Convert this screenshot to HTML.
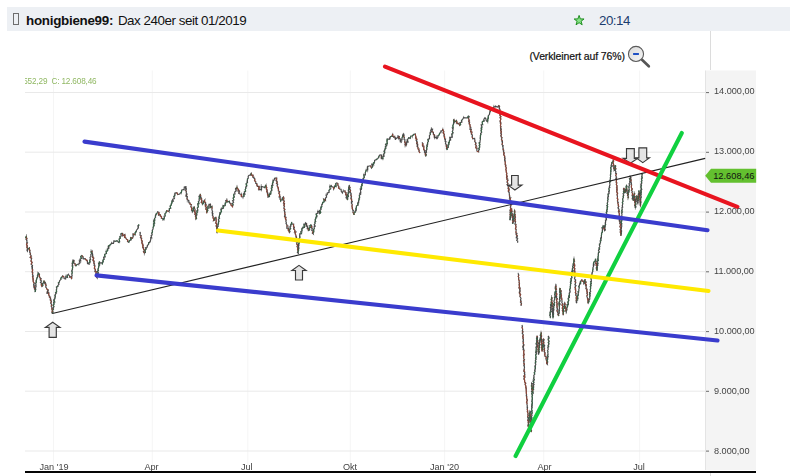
<!DOCTYPE html>
<html><head><meta charset="utf-8"><title>chart</title>
<style>
html,body{margin:0;padding:0;background:#fff;}
body{width:790px;height:476px;position:relative;overflow:hidden;font-family:"Liberation Sans",sans-serif;}
#hdr{position:absolute;left:7px;top:7px;width:783px;height:24px;background:#edf0f4;}
#box{position:absolute;left:13px;top:13px;width:4px;height:10px;border:1px solid #6e6e6e;}
#title{position:absolute;left:26px;top:11.6px;font-size:13.4px;line-height:18px;color:#111;white-space:nowrap;}
#title b{font-weight:bold;letter-spacing:-0.28px;}
#title span{letter-spacing:-0.46px;margin-left:1.0px;}
#time{position:absolute;left:599px;top:11.9px;font-size:13.3px;line-height:18px;color:#1b3c6e;letter-spacing:-0.48px;}
#vk{position:absolute;left:529.5px;top:49px;font-size:10.5px;line-height:14px;color:#111;-webkit-text-stroke:0.2px #111;white-space:nowrap;letter-spacing:-0.13px;}
#vline{position:absolute;left:710px;top:31px;width:1px;height:445px;background:#dcdcdc;}
svg{position:absolute;left:0;top:0;}
</style></head><body>
<div id="vline"></div>
<div id="hdr"></div>
<div id="box"></div>
<div id="title"><b>honigbiene99:</b> <span>Dax 240er seit 01/2019</span></div>
<div id="time">20:14</div>
<div id="vk">(Verkleinert auf 76%)</div>
<svg width="790" height="476" viewBox="0 0 790 476">
<!-- chart image background -->
<rect x="24.5" y="70" width="731.5" height="403" fill="#fff"/>
<rect x="705.5" y="70.5" width="50.5" height="399.5" fill="#f4f4f4"/>
<line x1="705.5" y1="70.5" x2="705.5" y2="470" stroke="#e4e4e4" stroke-width="1"/>
<g stroke-width="1" fill="none">
<line x1="53.5" y1="70.5" x2="53.5" y2="470" stroke="#f5f5f5"/>
<line x1="152.3" y1="70.5" x2="152.3" y2="470" stroke="#f5f5f5"/>
<line x1="247.8" y1="70.5" x2="247.8" y2="470" stroke="#f5f5f5"/>
<line x1="350.3" y1="70.5" x2="350.3" y2="470" stroke="#f5f5f5"/>
<line x1="444.6" y1="70.5" x2="444.6" y2="470" stroke="#f5f5f5"/>
<line x1="543.7" y1="70.5" x2="543.7" y2="470" stroke="#f5f5f5"/>
<line x1="639.6" y1="70.5" x2="639.6" y2="470" stroke="#f5f5f5"/>
<line x1="25" y1="92.5" x2="705.5" y2="92.5" stroke="#e9e9e9"/>
<line x1="25" y1="152.2" x2="705.5" y2="152.2" stroke="#e9e9e9"/>
<line x1="25" y1="212" x2="705.5" y2="212" stroke="#e9e9e9"/>
<line x1="25" y1="271.7" x2="705.5" y2="271.7" stroke="#e9e9e9"/>
<line x1="25" y1="331.5" x2="705.5" y2="331.5" stroke="#e9e9e9"/>
<line x1="25" y1="391.2" x2="705.5" y2="391.2" stroke="#e9e9e9"/>
<line x1="25" y1="451" x2="705.5" y2="451" stroke="#e9e9e9"/>
</g>
<clipPath id="cl"><rect x="25" y="70" width="680" height="401"/></clipPath>
<text x="23.2" y="84" font-size="8.2" fill="#84b052" opacity="0.9" xml:space="preserve" style="white-space:pre" textLength="73.4" lengthAdjust="spacing" clip-path="url(#cl)" font-family="Liberation Sans, sans-serif">552,29  C: 12.608,46</text>
<!-- price series -->
<g fill="none" stroke-linecap="butt" stroke-linejoin="miter">
<path d="M48.1 289.9L47.2 293.2 M74.0 260.4L73.4 263.0 M124.8 234.6L124.7 237.4 M158.9 212.3L158.6 215.1 M186.9 193.9L186.1 196.3 M206.0 204.5L205.5 207.0 M210.4 204.3L210.0 207.6 M239.4 190.8L238.8 193.4 M241.4 194.3L241.5 196.8 M259.1 186.3L258.8 189.8 M276.0 180.1L277.3 182.3 M306.5 223.5L306.3 226.3 M381.5 155.0L381.4 158.6 M415.6 137.5L416.8 139.8 M417.6 144.1L417.3 146.8 M422.8 143.4L422.6 145.9 M434.4 134.9L434.5 137.6 M456.5 120.9L457.0 123.5 M499.9 109.3L499.6 111.9 M509.1 189.1L508.4 191.5 M520.0 290.7L519.4 293.2 M523.9 344.6L522.9 346.9 M541.6 347.1L542.4 349.6 M566.2 308.5L565.8 311.2 M587.7 298.4L588.2 300.9 M619.0 217.8L620.2 220.0 M619.3 220.1L620.1 222.5 M630.8 177.1L630.4 179.6 M640.0 201.2L640.6 203.7" stroke="#8a3a22" stroke-width="2" opacity="0.45"/>
<path d="M108.7 248.7L108.4 246.0 M131.0 240.1L130.8 237.6 M133.2 236.5L133.1 233.9 M153.9 225.9L153.7 223.3 M154.6 223.2L153.7 220.9 M174.7 195.6L175.0 193.0 M223.3 208.3L223.1 205.6 M236.1 191.0L235.7 188.4 M244.0 196.4L243.6 193.9 M246.7 186.2L246.2 183.6 M261.4 189.7L261.3 186.4 M264.7 187.7L265.9 185.3 M269.4 196.6L269.2 193.9 M272.2 187.9L271.7 185.4 M304.4 227.3L304.1 224.3 M316.8 216.4L316.2 213.8 M336.0 186.6L335.7 183.6 M361.4 189.0L361.2 186.4 M367.6 169.9L367.5 166.8 M383.4 155.0L384.7 152.6 M387.0 141.6L387.3 138.9 M408.0 142.1L407.2 139.6 M450.6 140.1L449.9 137.3 M479.9 145.0L479.2 142.6 M537.1 346.0L536.1 343.5 M537.4 340.5L536.6 337.9 M542.8 349.7L542.2 347.2 M543.4 342.2L542.9 339.5 M549.1 341.6L548.1 339.1 M550.6 305.4L551.6 302.9 M559.5 306.3L559.0 303.8 M568.7 300.9L568.3 298.3 M580.5 283.7L580.5 281.2 M604.5 228.8L605.2 226.4 M640.9 202.5L640.4 199.9" stroke="#4a6a4a" stroke-width="2" opacity="0.35"/>
<path d="M25.5 238.0 L26.5 236.0 L26.1 236.7 L26.9 238.6 L26.1 239.2 L27.0 241.0 L26.7 242.9 L27.3 242.9 L26.5 244.4 L27.3 245.9 L26.9 247.4 L27.5 248.6 L27.0 250.1 L27.4 251.0 L27.9 249.0 L29.4 248.0 L29.4 249.2 L29.9 251.0 L29.7 252.0 L30.5 253.4 L30.2 254.2 L31.1 255.8 L30.1 257.5 L31.6 258.3 L31.2 260.0 L31.0 261.3 L32.2 262.4 L31.1 264.2 L32.5 265.5 L31.8 266.7 L32.4 267.2 L32.4 269.0 L32.7 270.0 L32.1 272.2 L32.8 272.7 L32.4 274.1 L33.3 276.1 L32.5 276.4 L33.0 278.2 L33.1 278.9 L33.2 280.6 L33.2 281.7 L34.2 283.3 L33.6 284.8 L34.5 286.0 L34.0 286.9 L34.8 288.3 L34.5 289.1 L35.2 290.0 L35.3 292.0 L35.1 291.3 L35.7 289.1 L35.4 288.8 L36.0 286.4 L35.7 285.6 L36.0 284.8 L35.6 283.3 L36.3 282.5 L36.2 280.6 L36.8 278.8 L36.7 278.4 L37.6 276.8 L37.4 275.5 L38.3 274.1 L38.2 273.0 L39.5 274.5 L39.1 276.0 L40.0 277.6 L41.0 278.6 L40.4 280.0 L41.5 281.0 L40.4 282.3 L41.7 283.8 L41.2 284.8 L42.0 286.5 L42.9 285.6 L42.5 283.6 L43.8 282.7 L44.0 280.6 L44.4 282.3 L45.3 282.3 L45.2 283.8 L46.1 285.5 L45.7 287.0 L46.5 288.0 L46.7 288.9 L48.1 289.9 L47.2 293.2 L48.7 292.8 L48.8 295.0 L49.4 296.1 L49.3 297.1 L50.6 298.2 L50.2 299.9 L50.9 301.0 L51.4 301.6 L50.8 303.0 L51.7 304.9 L51.2 306.2 L52.1 308.0 L51.7 308.7 L52.4 310.3 L52.0 312.3 L52.4 313.0 L53.1 312.0 L52.5 310.5 L53.5 309.0 L53.0 308.5 L54.0 306.5 L53.2 305.3 L54.1 304.2 L53.6 302.4 L54.8 302.1 L53.9 299.9 L54.9 298.8 L54.7 298.0 L55.3 296.4 L55.0 295.1 L55.9 293.7 L55.5 292.7 L56.6 291.8 L56.4 289.6 L56.8 289.0 L56.4 287.1 L57.9 286.4 L57.8 285.8 L58.9 284.0 L58.3 282.9 L59.3 282.2 L59.7 280.6 L61.0 279.4 L60.8 278.2 L62.1 276.9 L62.6 276.0 L64.0 277.0 L64.1 278.5 L65.6 279.0 L65.8 276.8 L67.5 277.3 L67.2 275.2 L68.5 274.7 L69.7 276.1 L69.6 277.1 L71.4 276.8 L71.5 279.0 L71.9 277.7 L71.5 276.3 L72.2 275.9 L71.8 274.2 L72.3 272.5 L71.8 270.8 L72.5 269.7 L72.3 269.4 L72.7 267.3 L72.2 265.8 L72.8 265.8 L72.2 263.4 L73.2 262.4 L72.7 261.2 L73.0 260.0 L74.0 260.4 L73.4 263.0 L75.0 263.5 L75.3 265.5 L75.9 266.0 L77.0 264.5 L78.8 264.0 L79.9 263.1 L79.4 260.9 L80.7 260.8 L80.2 259.0 L81.6 258.5 L80.6 256.7 L81.8 255.6 L82.9 256.5 L83.3 258.8 L85.1 258.6 L86.2 260.0 L87.4 261.2 L87.5 263.4 L89.0 264.0 L88.8 262.9 L90.0 262.0 L89.7 259.9 L90.6 259.6 L90.0 257.6 L91.1 256.1 L90.7 254.9 L91.6 253.7 L91.0 251.7 L92.0 251.0 L92.0 252.3 L92.6 254.0 L92.6 255.5 L93.0 256.5 L92.5 257.3 L93.7 258.2 L93.0 260.1 L94.1 261.6 L93.7 263.0 L94.5 263.8 L94.0 265.2 L94.8 265.8 L94.4 268.3 L95.0 269.0 L95.5 270.0 L94.9 271.0 L96.2 271.9 L96.0 273.4 L97.1 275.4 L96.3 276.7 L97.0 277.6 L96.8 276.3 L97.5 275.8 L97.2 273.9 L98.4 272.8 L97.3 271.6 L98.5 270.5 L97.9 269.5 L98.7 267.5 L98.5 267.1 L99.2 265.0 L98.6 263.4 L99.3 263.4 L99.4 261.5 L99.9 263.0 L101.9 262.6 L102.4 264.4 L102.5 262.4 L103.3 262.0 L103.0 260.1 L104.2 259.2 L103.7 257.4 L105.0 256.9 L104.6 254.7 L105.3 254.0 L106.5 253.5 L106.1 251.6 L107.7 250.7 L107.4 249.2 L108.7 248.7 L108.4 246.0 L109.7 245.3 L110.9 244.2 L111.5 243.1 L113.5 243.3 L114.0 241.0 L115.5 241.3 L117.1 240.7 L118.5 242.4 L119.6 241.5 L119.1 239.1 L120.3 238.3 L120.0 236.5 L121.3 236.0 L120.9 234.2 L121.5 233.5 L122.6 233.6 L122.6 235.7 L124.8 234.6 L124.7 237.4 L125.9 238.0 L126.4 239.2 L127.8 240.0 L127.5 241.5 L128.8 242.4 L129.5 240.4 L131.0 240.1 L130.8 237.6 L132.6 238.3 L133.2 236.5 L133.1 233.9 L135.1 234.8 L135.1 232.8 L136.3 231.2 L136.5 230.2 L137.6 229.0 L138.3 227.5 L138.1 225.5 L139.0 224.7 M140.0 232.0 L140.3 233.2 L140.0 235.2 L141.2 235.6 L140.4 237.8 L141.6 238.5 L141.4 240.1 L142.2 241.4 L141.8 242.7 L142.4 244.0 L143.1 245.7 L142.6 247.3 L143.6 248.0 L143.2 248.6 L144.5 250.4 L143.4 251.6 L144.4 253.0 L145.4 252.5 L145.0 250.6 L146.1 248.8 L145.7 247.9 L147.0 247.5 L147.4 245.6 L148.6 244.2 L148.7 242.6 L149.6 242.5 L150.3 241.0 L150.8 239.2 L150.7 237.9 L151.7 237.9 L151.1 235.7 L152.2 234.8 L151.7 233.4 L152.5 231.7 L152.3 230.4 L153.0 229.1 L153.2 228.0 L153.1 227.3 L153.9 225.9 L153.7 223.3 L154.6 223.2 L153.7 220.9 L154.7 220.7 L154.6 218.4 L155.6 217.1 L155.3 216.0 L155.9 214.6 L157.1 213.0 L157.6 211.8 L158.9 212.3 L158.6 215.1 L160.2 214.7 L160.6 216.0 L161.6 217.0 L161.4 218.3 L162.9 218.5 L163.0 220.6 L163.0 219.8 L164.4 217.8 L164.1 216.3 L165.2 216.1 L164.9 213.8 L165.9 213.0 L166.6 210.8 L168.5 211.4 L169.4 210.3 L169.4 208.5 L170.7 208.3 L170.1 205.9 L171.2 205.2 L171.2 204.5 L171.8 203.0 L172.1 200.9 L173.3 201.1 L172.6 199.3 L174.4 198.6 L173.7 196.6 L174.7 195.6 L175.0 193.0 L176.8 192.6 L177.7 194.6 L179.7 194.0 L180.2 193.1 L181.4 192.4 L181.8 190.0 L182.6 189.7 L184.1 189.2 L184.3 187.0 L185.6 186.8 L185.4 187.5 L186.3 189.0 L185.7 190.7 L186.4 191.4 L186.2 192.8 L186.9 193.9 L186.1 196.3 L187.3 196.5 L187.0 198.5 L187.3 199.5 L188.8 200.8 L188.9 202.7 L190.0 203.0 L189.9 204.1 L191.4 204.7 L190.8 206.4 L191.8 208.2 L191.5 210.0 L192.2 210.4 L192.4 211.8 L193.3 210.5 L193.2 208.3 L194.4 207.4 L194.5 208.2 L195.1 209.7 L194.4 211.5 L195.4 213.1 L194.8 214.3 L195.8 215.2 L195.4 216.4 L196.0 217.0 L195.9 219.0 L196.6 218.3 L196.0 216.5 L196.9 214.9 L196.4 213.4 L197.2 212.7 L196.9 211.2 L197.8 210.0 L197.3 207.9 L198.4 206.8 L198.2 205.9 L197.8 203.9 L198.9 203.8 L198.4 201.5 L199.3 200.7 L199.1 199.1 L200.2 197.8 L199.1 196.5 L200.3 194.8 L200.3 194.0 L200.7 195.9 L200.5 196.8 L201.5 198.2 L201.0 199.0 L201.9 200.8 L201.2 202.4 L202.6 203.3 L202.4 204.4 L203.6 202.8 L203.3 201.6 L204.7 200.0 L204.4 201.5 L205.6 202.6 L205.2 204.7 L206.0 204.5 L205.5 207.0 L206.7 207.5 L205.7 209.0 L207.1 210.7 L206.5 212.0 L207.0 213.2 L206.7 212.1 L207.9 210.4 L207.3 209.8 L208.2 207.7 L207.8 206.2 L208.7 206.0 L209.0 204.4 L210.4 204.3 L210.0 207.6 L212.0 206.4 L212.0 208.8 L211.9 209.6 L212.6 211.8 L212.2 213.0 L212.8 213.4 L212.3 215.2 L213.1 216.3 L213.0 217.8 L213.8 219.2 L213.5 220.6 L214.6 220.1 L214.8 217.8 L215.9 217.6 L216.2 219.4 L216.1 219.9 L216.2 222.0 L215.6 223.0 L216.8 223.8 L216.1 226.2 L217.0 226.7 L216.6 228.4 L217.0 229.1 L216.6 231.5 L217.0 232.4 L217.4 231.1 L216.7 230.3 L217.6 228.4 L217.2 227.1 L218.3 226.2 L217.8 225.2 L218.6 223.5 L218.4 222.6 L219.0 221.2 L218.4 219.3 L219.5 218.4 L218.9 217.7 L219.4 216.2 L219.5 215.0 L220.6 213.6 L219.9 212.8 L221.5 211.8 L221.0 209.4 L221.8 208.8 L223.3 208.3 L223.1 205.6 L224.7 205.9 L225.3 205.4 L225.1 204.0 L226.1 202.2 L225.7 200.5 L226.8 200.0 L227.3 202.0 L229.4 201.3 L229.7 203.0 L231.0 203.5 L230.9 205.0 L232.4 206.2 L232.6 207.4 L232.5 206.0 L233.2 205.0 L232.4 203.5 L233.6 202.1 L232.6 200.7 L233.8 200.0 L233.1 198.1 L234.2 196.8 L233.6 195.3 L234.0 194.0 L235.0 193.9 L234.7 192.0 L236.1 191.0 L235.7 188.4 L236.9 188.3 L237.0 186.8 L236.9 188.0 L238.6 189.6 L238.0 190.8 L239.4 190.8 L238.8 193.4 L240.0 194.0 L241.4 194.3 L241.5 196.8 L243.0 197.0 L244.0 196.4 L243.6 193.9 L244.8 194.2 L244.2 192.1 L245.6 191.2 L245.2 189.5 L245.9 188.2 L245.7 187.4 L246.7 186.2 L246.2 183.6 L247.5 182.5 L247.2 181.9 L247.5 180.0 L247.5 178.8 L248.3 178.3 L248.2 176.5 L248.8 175.4 L250.6 174.9 L251.2 173.5 L251.7 175.0 L253.1 175.7 L252.7 177.0 L254.0 178.0 L254.9 178.9 L254.5 180.5 L255.8 181.8 L255.7 183.3 L256.8 183.7 L257.0 185.3 L257.5 186.3 L259.1 186.3 L258.8 189.8 L260.0 189.7 L261.4 189.7 L261.3 186.4 L263.0 186.8 L264.7 187.7 L265.9 185.3 L266.0 186.8 L266.8 187.5 L266.2 189.0 L267.1 190.2 L266.7 191.8 L267.5 192.5 L267.4 193.9 L268.2 196.2 L268.0 197.0 L269.4 196.6 L269.2 193.9 L270.6 194.2 L270.9 192.6 L270.8 191.3 L271.8 190.4 L271.3 188.2 L272.2 187.9 L271.7 185.4 L272.9 185.2 L272.4 183.8 L273.1 182.0 L273.0 180.9 L274.0 180.3 L274.6 178.2 L275.9 178.0 L276.8 179.0 L276.0 180.1 L277.3 182.3 L276.5 183.6 L277.6 184.2 L277.1 185.8 L278.1 187.5 L278.2 188.2 L278.5 189.4 L278.4 190.9 L279.6 191.9 L278.8 193.2 L279.8 194.8 L279.3 196.8 L280.2 196.7 L280.1 199.2 L280.7 199.8 L280.6 201.5 L280.8 199.8 L282.6 199.9 L282.2 198.3 L283.5 197.0 L283.9 198.5 L283.4 200.1 L284.4 201.1 L283.5 203.1 L284.5 203.5 L283.9 205.6 L284.5 206.3 L283.8 208.1 L284.9 209.5 L284.1 210.2 L284.9 212.3 L284.7 213.2 L285.1 215.0 L284.5 216.7 L285.9 217.4 L285.3 218.7 L286.2 220.2 L285.8 221.0 L286.4 222.8 L286.0 223.3 L287.1 225.1 L287.0 226.5 L286.8 228.2 L288.7 228.5 L288.1 229.9 L289.1 231.3 L289.4 232.4 L290.0 231.6 L289.3 230.2 L290.7 228.4 L289.9 226.8 L290.8 226.1 L290.7 225.1 L291.7 223.0 L291.5 222.0 L292.0 224.2 L293.6 224.2 L293.5 226.5 L294.4 227.4 L293.8 228.9 L295.0 230.5 L294.5 232.0 L295.9 231.9 L295.1 233.6 L295.9 235.3 L296.0 236.4 L296.6 237.3 L296.1 238.6 L296.7 240.9 L296.5 242.0 L297.3 242.2 L296.6 243.8 L297.7 245.2 L297.0 246.6 L297.8 247.7 L297.5 249.9 L298.4 250.9 L297.4 252.3 L298.2 253.0 L298.0 252.2 L298.6 249.8 L298.2 249.2 L298.9 248.3 L298.5 245.9 L298.9 245.5 L298.5 244.3 L299.3 242.1 L299.1 241.0 L299.5 239.7 L298.8 239.2 L299.9 237.6 L299.7 236.0 L299.9 233.9 L301.4 233.8 L300.8 231.7 L302.0 230.8 L301.8 228.9 L302.7 228.6 L302.9 227.1 L304.4 227.3 L304.1 224.3 L305.4 224.0 L305.7 223.0 L306.5 223.5 L306.3 226.3 L307.7 226.0 L307.3 228.3 L308.1 228.4 L308.4 230.5 L309.7 229.8 L309.0 228.1 L310.4 227.4 L309.8 225.7 L311.0 224.8 L311.7 225.8 L311.4 227.7 L312.2 228.6 L311.8 230.5 L313.3 230.9 L312.4 233.2 L313.3 234.0 L313.1 232.9 L313.8 231.9 L313.6 229.4 L314.4 228.6 L314.1 226.7 L315.1 226.0 L314.3 224.7 L315.1 223.4 L314.8 221.9 L315.7 221.4 L315.2 220.1 L316.0 218.0 L315.9 217.0 L316.8 216.4 L316.2 213.8 L317.9 213.1 L317.8 211.6 L319.2 211.3 L319.7 213.5 L320.7 212.5 L319.8 210.4 L321.2 209.1 L320.7 208.4 L321.9 206.4 L321.7 204.8 L322.4 204.0 L322.7 202.5 L324.3 201.7 L323.7 199.3 L325.5 200.6 L325.4 198.3 L326.6 197.0 L326.2 195.2 L327.3 194.7 L327.3 192.9 L328.4 192.7 L329.1 192.1 L328.9 190.5 L330.3 188.9 L329.7 187.0 L331.0 186.1 L331.0 185.0 L331.7 186.6 L333.3 187.1 L333.7 189.0 L334.4 187.5 L334.6 186.1 L336.0 186.6 L335.7 183.6 L336.7 183.0 L337.8 183.4 L337.9 185.5 L338.7 186.3 L338.5 187.9 L339.8 189.0 L341.1 189.3 L341.3 191.5 L342.4 192.7 L343.3 191.0 L345.0 190.8 L345.1 192.4 L346.1 192.7 L345.7 194.3 L346.8 195.4 L346.0 197.8 L347.3 198.9 L347.3 200.0 L347.8 198.7 L347.2 197.2 L348.4 196.3 L347.5 194.7 L348.3 193.9 L348.2 192.2 L349.0 192.0 L348.3 190.5 L348.7 188.9 L348.7 187.8 L349.6 186.3 L349.2 185.0 L349.1 186.6 L350.2 187.9 L349.4 189.0 L350.6 190.4 L350.1 191.9 L351.1 193.7 L351.0 194.5 L350.8 195.3 L351.5 196.4 L351.0 198.6 L351.7 200.1 L351.5 201.1 L352.3 201.6 L351.4 202.8 L352.3 204.7 L351.9 206.2 L352.3 207.4 L352.3 208.4 L352.6 209.7 L353.4 210.4 L352.9 212.2 L354.1 214.2 L354.0 215.0 L353.9 213.1 L355.2 212.3 L355.0 211.7 L356.2 209.8 L355.9 208.7 L356.4 207.8 L356.5 205.8 L357.9 205.2 L357.8 203.1 L358.7 202.0 L358.6 201.1 L359.1 199.2 L359.0 198.3 L359.6 197.6 L359.4 195.3 L360.7 194.1 L359.8 193.3 L360.7 192.4 L360.6 190.8 L360.3 188.9 L361.4 189.0 L361.2 186.4 L362.1 185.7 L361.7 184.9 L362.5 182.9 L362.2 181.2 L363.3 180.4 L363.2 179.4 L363.3 178.4 L364.3 177.3 L363.8 174.9 L365.4 174.9 L365.3 172.6 L366.0 171.0 L366.2 170.0 L367.6 169.9 L367.5 166.8 L368.9 166.0 L370.6 165.8 L371.5 168.0 L372.7 166.5 L371.9 164.5 L373.6 165.0 L373.2 163.3 L374.5 162.3 L374.6 160.5 L376.4 159.6 L377.6 158.6 L378.7 157.3 L379.0 156.0 L380.0 154.8 L381.5 155.0 L381.4 158.6 L382.9 158.6 L382.8 156.7 L384.0 156.2 L383.4 155.0 L384.7 152.6 L384.1 151.3 L384.9 149.8 L385.0 149.0 L386.0 148.1 L385.4 146.4 L386.6 145.7 L385.6 144.2 L387.3 143.6 L387.0 141.6 L387.3 138.9 L389.3 139.3 L389.7 137.8 L390.4 136.7 L392.1 136.0 L392.7 134.0 L392.6 136.3 L394.4 136.3 L393.8 137.2 L395.4 138.2 L395.4 139.7 L395.7 138.6 L397.8 137.5 L398.0 136.0 L399.3 136.6 L398.7 138.3 L400.1 138.7 L400.2 140.9 L401.0 141.6 L400.7 140.4 L402.0 139.5 L402.0 137.8 L402.9 136.1 L402.7 135.3 L403.3 134.0 L404.0 135.5 L403.2 136.4 L404.4 137.1 L404.1 139.5 L405.0 139.9 L404.7 141.3 L405.4 143.5 L405.0 144.6 L406.0 145.4 L406.6 144.2 L406.6 142.0 L408.0 142.1 L407.2 139.6 L408.3 138.6 L408.6 137.8 L410.2 138.2 L410.9 136.0 L412.4 136.0 L413.8 134.3 L415.4 134.0 L415.4 135.2 L416.0 137.2 L415.6 137.5 L416.8 139.8 L416.1 140.2 L417.2 142.2 L416.7 143.7 L417.6 144.1 L417.3 146.8 L418.0 147.3 L418.0 148.8 L419.2 150.5 L418.9 151.2 L420.0 153.0 M422.0 142.4 L422.8 143.4 L422.6 145.9 L423.8 146.0 L423.8 148.0 L423.7 149.6 L424.8 150.4 L424.4 152.2 L425.3 153.2 L425.3 154.8 L425.7 155.7 L426.2 154.6 L425.5 153.1 L426.5 152.3 L426.2 150.6 L426.8 149.4 L426.6 147.5 L427.4 146.3 L426.9 145.6 L427.6 144.3 L427.6 142.4 L428.4 141.5 L427.9 139.3 L429.5 138.8 L429.5 136.8 L429.4 135.7 L430.4 134.3 L430.1 132.9 L431.4 131.8 L430.6 130.8 L431.4 129.0 L432.6 129.3 L431.9 131.5 L433.4 132.4 L433.4 134.3 L434.4 134.9 L434.5 137.6 L436.3 137.4 L437.0 138.6 L438.0 137.2 L437.9 135.8 L439.2 134.9 L439.7 133.0 L440.8 132.8 L441.0 131.1 L442.4 130.5 L442.7 129.0 L442.8 129.8 L443.9 131.8 L443.1 132.7 L444.4 134.6 L444.0 135.8 L444.6 136.8 L444.6 138.7 L445.5 139.0 L445.2 141.4 L445.9 141.5 L445.5 143.4 L446.4 145.1 L446.3 146.3 L446.8 146.9 L446.4 148.2 L447.2 150.0 L447.1 148.2 L448.4 147.2 L447.9 145.4 L448.9 144.8 L448.5 142.5 L449.3 142.7 L449.5 140.5 L450.6 140.1 L449.9 137.3 L452.1 137.1 L452.0 134.9 L451.8 134.0 L453.0 132.7 L452.3 131.4 L453.1 129.7 L452.4 127.9 L453.2 128.0 L452.8 125.6 L453.5 124.3 L453.5 123.4 L454.0 122.0 L453.5 120.6 L454.0 119.7 L454.7 121.6 L456.5 120.9 L457.0 123.5 L458.7 123.3 L459.7 125.4 L460.7 124.4 L460.0 122.6 L461.9 122.1 L461.5 120.4 L462.4 119.7 L463.6 117.7 L465.4 117.8 L467.4 117.8 L468.4 116.0 L469.2 116.5 L468.5 118.4 L469.1 119.8 L468.8 121.8 L469.6 122.6 L469.2 123.9 L470.0 124.6 L470.0 125.9 L470.3 127.3 L470.0 129.5 L471.2 129.6 L470.6 131.4 L472.0 132.1 L471.4 134.2 L472.4 135.1 L472.2 136.8 L472.7 138.7 L474.6 138.4 L474.9 140.5 L474.7 141.4 L475.9 143.1 L475.3 144.5 L476.3 145.5 L475.7 147.8 L477.0 148.6 L476.8 150.0 L477.0 151.2 L478.6 151.9 L478.6 150.2 L479.3 149.6 L478.8 148.6 L479.8 147.0 L479.2 145.5 L479.9 145.0 L479.2 142.6 L480.1 142.2 L480.0 141.1 L480.5 139.0 L480.2 137.8 L480.5 136.8 L480.3 135.8 L481.0 134.1 L480.6 133.5 L481.7 132.2 L481.1 130.8 L481.8 129.0 L481.2 128.4 L481.9 126.9 L481.3 124.7 L482.7 124.6 L482.2 122.7 L482.4 121.6 L484.1 120.8 L483.8 119.5 L485.0 117.8 L485.9 118.8 L486.3 120.6 L487.3 121.6 L487.8 120.9 L487.7 119.3 L488.5 118.0 L488.2 115.9 L489.5 114.3 L489.6 113.0 L490.0 112.0 L490.6 110.0 L492.0 110.3 L492.6 108.4 L493.8 107.1 L495.7 106.5 L497.6 107.1 L498.7 105.7 L499.6 106.5 L499.1 107.8 L499.9 109.3 L499.6 111.9 L500.1 111.9 L500.2 114.0 L500.0 115.6 L501.0 116.8 L500.0 117.7 L500.9 118.9 L500.1 121.1 L500.7 122.2 L500.5 122.7 L500.8 123.6 L500.4 126.0 L501.0 126.4 L500.5 127.7 L501.2 129.5 L500.6 130.6 L501.4 131.9 L500.7 133.3 L501.5 134.4 L500.8 135.7 L501.3 136.8 L502.1 137.6 L501.4 139.2 L502.4 141.1 L502.1 141.6 L502.5 142.8 L502.0 144.6 L503.2 145.9 L502.7 146.6 L503.2 148.0 L503.0 148.9 L503.7 150.1 L503.6 152.1 L504.1 153.1 L503.7 154.7 L504.8 156.3 L504.4 157.2 L505.0 158.4 L504.6 159.4 L505.1 161.3 L505.3 162.8 L505.2 164.7 L505.8 165.2 L505.4 166.2 L506.3 167.8 L505.8 169.8 L506.3 170.8 L506.2 171.8 L506.9 173.7 L506.4 174.8 L507.2 176.4 L506.5 177.4 L507.1 178.7 L506.9 179.7 L507.9 180.2 L507.0 182.2 L508.0 183.4 L507.2 184.8 L507.8 186.0 L508.6 187.0 L508.2 188.6 L509.1 189.1 L508.4 191.5 L509.1 192.5 L509.3 193.5 L509.4 195.1 L509.8 196.2 L509.5 198.1 L510.6 198.0 L509.9 199.2 L510.7 200.6 L510.1 202.9 L511.0 203.4 L510.8 204.9 L510.9 206.0 L510.4 207.1 L510.7 208.9 L510.1 210.2 L510.8 211.0 L510.2 212.7 L510.5 213.1 L509.9 214.3 L510.4 215.8 L510.1 217.6 L510.4 218.4 L510.0 220.0 L510.0 218.9 L510.7 216.9 L510.0 216.7 L511.2 215.0 L510.5 213.3 L511.4 212.0 L510.6 210.5 L511.7 210.5 L511.6 208.6 L511.6 210.2 L512.1 211.6 L511.3 212.0 L512.5 214.1 L511.8 215.3 L512.5 216.2 L512.4 217.7 L512.9 218.5 L512.4 220.2 L513.0 220.7 L512.6 222.4 L513.0 223.8 L512.5 223.0 L514.0 221.3 L513.2 220.1 L514.1 218.0 L513.6 217.2 L514.1 215.4 L514.0 214.9 L514.7 212.6 L514.3 211.5 L514.6 210.5 L514.9 211.5 L514.4 213.5 L515.2 214.1 L514.8 215.2 L515.5 217.1 L514.6 218.4 L515.4 219.1 L514.9 220.8 L515.6 221.7 L514.9 224.0 L516.0 224.3 L515.6 225.6 L516.1 226.8 L515.4 228.8 L516.2 229.5 L516.0 231.3 L516.0 233.2 L516.8 233.4 L516.2 234.5 L517.3 235.9 L516.3 237.3 L517.7 238.7 L516.7 240.4 L517.7 241.0 L517.6 242.7 M518.2 273.5 L518.8 275.2 L518.2 276.5 L518.9 277.8 L518.5 279.0 L519.3 281.1 L519.0 282.0 L519.5 283.7 L519.2 284.2 L519.5 286.4 L518.9 288.0 L520.0 288.0 L519.7 289.4 L520.0 290.7 L519.4 293.2 L520.0 294.0 L520.7 294.7 L519.8 296.3 L521.0 298.3 L520.5 300.0 L521.2 301.1 L520.4 302.0 L521.5 303.8 L521.0 304.8 L521.2 306.0 M522.0 325.0 L522.4 326.7 L522.0 327.2 L522.7 329.3 L522.3 330.7 L522.8 331.2 L522.7 332.6 L522.3 333.3 L523.3 334.9 L522.7 336.8 L523.1 337.0 L523.0 338.8 L523.4 339.9 L522.9 341.9 L523.5 342.1 L523.2 343.9 L523.9 344.6 L522.9 346.9 L523.6 348.3 L523.2 349.5 L524.1 350.1 L523.7 351.5 L523.7 353.2 L524.3 354.7 L523.4 355.9 L523.9 356.8 L523.6 358.2 L524.5 359.6 L523.5 360.9 L524.2 361.9 L523.7 362.9 L524.4 364.7 L523.8 365.2 L524.5 367.3 L524.2 368.9 L524.4 369.4 L523.9 371.1 L524.8 372.2 L524.4 373.2 L524.8 374.8 L523.9 376.3 L525.0 377.0 L524.0 378.8 L524.6 380.0 L524.6 381.9 L525.8 383.2 L525.0 384.2 L525.9 386.0 L525.7 387.1 L526.3 389.1 L526.1 389.5 L526.3 390.9 L526.3 393.2 L526.6 394.4 L526.3 395.0 L526.7 396.2 L526.6 397.4 L526.8 399.0 L527.4 400.3 L526.5 402.2 L527.1 402.9 L526.9 404.1 L527.3 405.8 L527.1 407.3 L527.5 407.4 L527.2 409.2 L527.8 411.3 L527.3 411.5 L528.2 413.7 L527.8 414.6 L528.2 415.5 L527.6 416.9 L528.4 419.1 L527.6 420.1 L528.5 421.8 L528.1 422.8 L528.6 423.8 L528.1 425.0 L528.4 427.0 L528.1 425.7 L529.0 424.2 L528.5 423.5 L529.2 422.2 L528.9 421.0 L529.8 419.5 L528.7 418.2 L529.9 416.4 L529.5 415.8 L529.9 413.7 L529.8 413.4 L530.0 411.5 L530.4 412.2 L529.6 413.4 L530.4 415.0 L530.1 416.7 L530.5 418.3 L530.1 419.4 L530.6 420.5 L530.4 421.4 L531.1 423.0 L530.6 423.7 L531.0 425.0 L530.5 427.0 L531.1 428.3 L530.8 430.1 L531.5 430.4 L531.0 432.0 L531.2 430.2 L530.9 429.7 L531.4 427.8 L530.8 426.5 L531.6 425.6 L531.2 423.9 L531.6 423.4 L531.0 422.4 L532.0 420.9 L531.2 418.6 L532.0 418.2 L531.3 416.3 L532.1 415.2 L531.4 414.0 L532.3 412.9 L531.4 411.2 L532.2 411.1 L531.5 409.1 L532.1 407.4 L531.6 406.2 L532.0 405.9 L531.8 404.7 L532.4 402.7 L531.8 401.0 L532.2 400.4 L532.2 399.0 L532.4 398.3 L532.0 395.9 L532.5 395.5 L531.7 393.6 L532.5 391.6 L531.6 391.5 L532.1 390.3 L531.5 388.9 L532.2 387.3 L531.4 386.2 L531.8 384.8 L531.5 383.0 L532.1 384.8 L531.4 385.8 L532.5 387.5 L531.6 388.7 L532.9 390.1 L532.3 391.9 L533.0 392.6 L532.5 390.6 L533.6 389.6 L533.0 388.8 L533.7 386.9 L533.4 385.4 L534.1 384.3 L533.0 383.4 L534.0 382.6 L533.1 381.2 L534.3 379.5 L533.6 378.5 L534.0 376.8 L533.8 375.5 L534.8 374.2 L534.2 372.6 L535.1 371.6 L534.6 370.4 L535.3 368.5 L535.3 367.0 L535.1 366.3 L535.8 364.2 L535.2 363.2 L535.8 361.5 L535.3 360.9 L536.0 359.3 L535.5 358.2 L536.1 357.2 L535.6 355.0 L536.4 353.9 L535.7 352.4 L536.4 351.5 L536.1 351.0 L536.3 348.8 L536.3 348.0 L536.0 347.2 L537.1 346.0 L536.1 343.5 L536.8 342.2 L536.5 340.9 L537.4 340.5 L536.6 337.9 L537.5 337.4 L537.2 335.8 L537.0 337.0 L537.4 338.5 L537.4 340.2 L538.0 341.0 L537.1 342.5 L538.3 343.2 L537.8 344.8 L538.1 346.5 L537.7 346.9 L538.4 348.9 L537.8 349.9 L538.5 350.3 L538.1 351.6 L538.8 352.8 L538.5 354.7 L538.3 353.4 L539.3 351.9 L538.3 350.3 L539.2 349.9 L538.9 347.7 L539.6 347.6 L539.3 345.4 L540.0 344.9 L539.1 342.8 L539.7 342.0 L539.7 340.7 L540.4 338.9 L540.3 337.8 L540.9 336.3 L540.3 335.7 L541.2 333.8 L541.0 332.6 L541.4 333.5 L540.9 334.6 L541.6 336.1 L541.2 337.3 L541.5 338.7 L541.3 340.2 L541.9 341.6 L541.1 342.1 L541.9 343.9 L541.3 344.7 L542.1 346.0 L541.6 347.1 L542.4 349.6 L541.7 349.9 L542.3 351.5 L542.2 350.8 L542.8 349.7 L542.2 347.2 L543.1 346.0 L542.8 345.2 L543.3 344.0 L542.8 342.9 L543.4 342.2 L542.9 339.5 L543.5 339.0 L544.1 339.6 L543.4 341.9 L544.0 342.7 L543.4 343.7 L544.6 345.7 L543.6 346.8 L544.6 348.6 L544.3 350.0 L544.6 350.3 L544.2 351.6 L545.0 352.7 L544.8 354.7 L545.0 356.3 L546.3 356.9 L546.0 359.0 L546.3 360.3 L547.1 361.1 L546.6 363.1 L547.3 364.0 L547.1 362.4 L547.7 362.0 L547.1 360.3 L547.8 359.1 L547.4 358.3 L548.1 356.3 L547.3 355.1 L548.1 354.4 L547.7 352.3 L548.0 351.5 L547.5 350.8 L548.2 349.5 L547.9 347.3 L548.7 346.8 L548.1 345.4 L548.9 343.7 L548.2 342.5 L549.1 341.6 L548.1 339.1 L549.2 338.0 L548.3 336.7 L548.9 335.8 M550.0 317.6 L550.5 316.8 L549.6 315.2 L550.4 314.4 L550.0 312.8 L551.1 311.2 L550.5 310.5 L551.0 308.7 L550.3 307.6 L551.2 305.9 L550.6 305.4 L551.6 302.9 L551.0 302.3 L551.6 300.8 L551.1 299.3 L551.7 298.8 L551.5 297.0 L552.1 298.1 L551.6 299.3 L552.0 300.5 L551.6 302.0 L552.5 302.9 L551.9 305.0 L552.4 306.5 L551.9 307.4 L552.6 309.0 L552.2 309.4 L552.9 311.5 L552.2 311.9 L552.8 313.7 L552.6 314.8 L553.5 316.0 L553.0 317.6 L552.8 315.7 L553.5 314.6 L552.8 313.8 L553.6 313.3 L553.2 311.7 L553.8 309.4 L553.3 308.7 L553.8 308.0 L553.6 306.7 L554.5 305.0 L553.6 304.3 L554.6 302.5 L553.9 301.2 L554.4 300.0 L554.8 299.0 L554.4 297.5 L555.3 296.6 L554.7 294.8 L555.2 293.0 L554.9 292.2 L556.0 290.5 L555.3 288.6 L555.8 287.4 L555.3 287.2 L555.9 285.3 L556.1 286.0 L555.7 287.7 L556.5 289.4 L555.8 290.2 L556.5 291.8 L556.0 292.9 L556.9 293.9 L556.3 296.0 L556.7 296.6 L556.2 297.3 L557.3 298.6 L556.5 300.2 L557.1 302.1 L556.4 302.8 L557.3 303.6 L556.9 305.0 L557.1 306.3 L557.0 307.6 L557.6 309.2 L556.9 310.2 L557.4 311.8 L558.3 313.7 L557.8 314.5 L558.8 316.0 L558.4 314.6 L559.4 313.0 L559.0 311.6 L559.4 310.6 L558.9 310.3 L559.5 308.1 L559.2 306.9 L559.5 306.3 L559.0 303.8 L559.9 303.9 L559.0 302.4 L560.0 300.6 L559.4 299.3 L559.8 298.8 L559.6 297.4 L560.2 296.3 L559.7 294.6 L560.6 292.8 L559.7 292.3 L560.4 290.3 L559.7 289.7 L560.3 288.0 L559.8 290.0 L561.1 290.8 L560.8 292.1 L561.2 293.7 L560.8 294.4 L561.5 295.4 L561.0 297.8 L561.7 298.0 L561.8 300.0 L562.1 301.2 L561.8 302.5 L562.7 303.9 L561.9 305.2 L562.9 306.1 L562.3 308.1 L563.0 309.8 L562.3 310.6 L563.4 312.3 L563.1 312.7 L563.2 314.7 L563.4 314.1 L563.2 312.1 L564.0 311.3 L563.3 309.2 L564.6 307.8 L563.6 306.7 L564.8 305.7 L564.0 304.5 L564.7 303.0 L565.2 304.8 L564.6 306.1 L565.7 306.8 L565.2 308.0 L566.2 308.5 L565.8 311.2 L566.2 311.8 L566.3 310.5 L567.0 309.8 L566.8 307.6 L567.6 306.9 L567.1 304.7 L568.3 304.7 L568.2 303.0 L567.9 302.0 L568.7 300.9 L568.3 298.3 L569.4 297.4 L568.7 296.2 L569.5 295.6 L569.3 293.6 L570.0 292.0 L570.0 291.0 L569.5 290.0 L570.4 287.9 L570.2 286.7 L570.6 285.2 L570.4 284.4 L571.0 283.0 L570.4 282.3 L571.3 280.6 L570.9 278.5 L572.0 277.8 L571.5 276.5 L572.1 275.6 L571.5 273.8 L572.7 272.2 L571.9 271.3 L573.1 270.9 L572.2 269.0 L573.0 267.6 L572.5 266.1 L573.9 265.3 L573.0 264.4 L573.9 262.2 L573.7 261.7 L573.9 260.1 L574.0 258.8 L573.8 259.4 L574.6 261.1 L573.6 262.4 L574.6 264.4 L574.3 264.6 L574.8 265.8 L573.9 267.8 L574.9 268.5 L574.5 269.9 L574.8 271.6 L574.7 273.5 L574.8 274.3 L574.4 275.1 L575.1 276.8 L574.5 278.3 L575.0 279.4 L575.6 280.0 L574.9 281.4 L575.7 282.7 L575.0 284.8 L576.0 285.7 L575.0 287.2 L575.7 289.2 L575.3 289.5 L575.8 291.0 L575.3 292.6 L576.1 293.7 L575.6 295.1 L576.6 296.2 L576.1 298.3 L576.7 298.5 L576.1 300.7 L576.7 302.1 L576.5 303.0 L576.2 301.9 L577.1 300.7 L576.8 299.2 L577.8 298.6 L577.5 296.1 L578.3 294.7 L578.0 294.0 L578.6 292.5 L577.9 291.9 L578.9 291.0 L578.8 289.3 L579.3 287.9 L578.7 286.3 L579.4 285.3 L579.8 283.4 L580.5 283.7 L580.5 281.2 L581.9 280.4 L581.8 279.4 L581.8 280.7 L583.6 281.7 L583.8 283.8 L584.9 282.8 L584.6 280.4 L585.3 279.4 L584.8 281.3 L586.0 282.0 L585.4 284.0 L586.4 285.0 L585.9 285.8 L586.3 287.5 L585.9 288.7 L587.0 289.3 L586.8 291.0 L587.5 292.6 L586.9 293.4 L587.6 294.6 L586.8 296.1 L587.6 298.3 L587.7 298.4 L588.2 300.9 L587.8 301.7 L588.2 303.0 L589.1 301.3 L588.7 300.5 L589.8 299.0 L589.7 297.0 L590.0 295.3 L589.6 294.1 L590.3 293.6 L589.6 292.5 L590.7 291.4 L590.2 290.1 L590.7 288.0 L590.3 286.4 L591.0 285.8 L590.4 284.2 L591.4 283.3 L590.6 281.7 L591.4 281.4 L591.2 279.4 L591.0 277.9 L591.7 277.0 L591.5 275.1 L592.1 273.9 L592.0 273.3 L592.8 271.3 L592.6 270.6 L593.1 268.7 L592.8 268.1 L593.5 266.5 L593.3 265.0 L594.0 265.0 L593.4 263.6 L594.0 261.8 L595.3 261.0 L595.6 258.8 L595.7 259.8 L596.1 261.6 L595.7 263.5 L596.7 263.5 L596.0 265.2 L596.9 266.1 L596.3 268.1 L597.2 269.2 L597.0 270.6 L596.7 269.4 L597.2 268.0 L597.2 266.4 L597.8 265.1 L597.2 264.0 L598.0 263.4 L597.3 261.7 L598.4 260.2 L597.6 259.0 L598.3 257.9 L597.9 257.3 L598.4 255.3 L598.3 254.5 L598.5 253.0 L599.3 251.9 L598.5 250.6 L599.7 249.0 L599.0 247.8 L599.9 246.6 L599.4 244.9 L600.0 244.0 L600.6 242.0 L600.2 240.8 L601.0 240.6 L600.6 238.7 L601.4 237.5 L601.4 235.8 L601.6 234.0 L601.5 233.4 L602.5 231.8 L602.3 230.8 L602.7 229.7 L602.1 227.5 L603.4 226.4 L603.2 225.7 L604.2 226.1 L603.6 227.9 L604.5 229.4 L604.7 230.7 L605.2 229.3 L604.5 228.8 L605.2 226.4 L604.9 225.7 L605.7 224.7 L605.3 223.3 L605.6 221.6 L605.5 220.2 L606.5 219.9 L606.0 218.0 L606.7 217.5 L605.8 215.5 L606.7 214.1 L606.3 212.5 L607.0 211.8 L606.7 210.0 L607.3 209.7 L607.2 208.0 L607.7 206.5 L606.9 205.3 L607.7 204.6 L607.2 203.3 L607.9 201.6 L607.5 200.8 L608.2 198.9 L607.6 198.2 L608.5 196.5 L608.2 195.5 L608.1 194.1 L609.1 193.6 L608.6 191.4 L609.4 190.9 L608.8 188.7 L609.7 187.5 L609.2 187.2 L609.7 185.4 L610.0 184.8 L609.6 182.5 L610.6 181.4 L609.8 180.2 L610.5 179.0 L610.3 177.7 L610.7 176.3 L610.3 175.1 L610.7 174.4 L610.7 172.8 L610.8 171.9 L610.8 170.3 L611.1 169.3 L610.6 167.6 L611.9 166.0 L611.1 165.7 L611.7 163.6 L611.7 162.7 L612.8 161.6 L613.2 160.2 L613.7 161.1 L612.9 162.9 L613.7 164.4 L613.2 165.7 L614.4 165.8 L613.6 168.0 L614.7 169.0 L614.3 170.3 L615.0 169.8 L614.4 168.3 L615.5 167.2 L615.3 165.3 L615.7 166.1 L615.3 167.8 L616.0 168.8 L615.1 170.4 L615.9 171.6 L615.6 173.4 L616.4 173.7 L615.7 175.7 L616.6 177.2 L615.8 178.2 L616.4 178.5 L616.5 180.4 L616.2 182.4 L616.8 182.7 L616.3 184.5 L617.1 185.9 L616.6 187.2 L617.1 187.3 L616.8 189.3 L617.1 190.0 L616.7 192.0 L617.6 193.5 L617.0 194.6 L617.3 195.5 L617.5 197.0 L617.2 198.5 L617.9 199.1 L617.4 201.0 L618.2 202.4 L617.7 202.6 L618.4 204.9 L618.3 205.6 L618.8 206.4 L618.1 207.5 L619.1 209.7 L618.4 211.2 L619.3 211.6 L618.8 212.5 L619.4 213.8 L619.3 215.6 L619.9 216.5 L619.0 217.8 L620.2 220.0 L619.3 220.1 L620.1 222.5 L619.7 223.4 L620.6 224.4 L620.3 225.7 L619.9 226.6 L620.9 228.5 L620.0 229.8 L620.8 230.3 L620.2 232.1 L621.0 233.6 L620.7 234.4 L621.0 235.8 L620.9 235.1 L621.4 233.7 L620.7 232.7 L621.6 231.0 L621.1 230.0 L621.5 227.7 L621.2 227.4 L621.8 226.2 L621.3 223.9 L621.8 223.8 L621.0 222.1 L621.9 220.6 L621.5 219.7 L622.1 217.7 L621.7 216.6 L621.8 215.6 L622.0 213.9 L621.5 213.0 L622.4 211.9 L621.5 211.1 L622.2 209.7 L622.0 207.6 L622.7 207.2 L622.3 205.7 L622.8 203.7 L622.3 202.5 L623.1 201.2 L622.8 200.5 L622.6 198.9 L623.4 197.6 L623.2 196.3 L623.7 195.4 L623.1 193.6 L623.9 193.1 L623.4 191.5 L624.0 190.8 L623.4 189.1 L624.0 188.0 L623.9 189.5 L625.1 190.7 L624.5 191.6 L625.3 193.0 L625.1 191.7 L626.0 191.0 L625.7 189.7 L626.5 188.3 L626.1 186.5 L626.6 185.4 L627.2 186.8 L626.2 187.9 L627.0 189.0 L626.7 190.1 L627.2 191.1 L627.1 193.4 L627.8 193.6 L627.5 195.3 L628.4 197.0 L627.9 198.0 L628.5 197.4 L628.0 195.4 L628.5 194.9 L628.0 192.9 L629.0 191.9 L628.5 190.6 L629.2 189.9 L629.0 188.0 L628.9 186.4 L629.5 185.4 L629.1 183.7 L630.0 182.4 L629.6 181.3 L630.4 179.9 L629.4 178.8 L630.5 177.8 L630.4 176.6 L630.8 177.1 L630.4 179.6 L631.2 179.7 L630.9 181.6 L631.4 183.5 L631.0 184.3 L631.6 184.8 L631.3 186.9 L631.6 188.0 L632.2 188.9 L631.4 190.5 L632.3 191.4 L631.9 192.5 L632.7 193.8 L632.2 195.5 L632.9 196.6 L632.1 198.8 L633.4 199.8 L632.9 200.5 L633.8 199.8 L633.1 197.4 L633.8 196.6 L633.3 195.6 L634.5 193.9 L634.2 193.0 L634.7 193.8 L634.0 195.4 L635.2 196.5 L634.1 198.3 L635.2 198.9 L634.4 200.4 L635.0 201.7 L634.8 202.4 L635.3 203.6 L634.7 205.3 L635.9 206.6 L635.4 208.0 L635.7 207.2 L635.3 205.7 L635.9 204.4 L635.6 202.4 L636.3 201.4 L635.6 200.9 L636.5 199.1 L636.3 197.8 L636.9 196.6 L636.7 195.5 L637.3 196.6 L636.9 198.0 L637.7 198.6 L637.1 200.0 L637.9 202.1 L637.9 203.0 L637.7 202.2 L638.3 200.4 L637.8 199.0 L638.5 198.7 L638.2 196.4 L638.9 195.3 L638.2 194.2 L639.1 192.7 L638.8 191.3 L639.2 190.5 L638.9 191.8 L639.8 192.7 L639.4 194.7 L639.9 196.1 L639.4 196.8 L640.3 198.7 L639.8 199.5 L640.5 200.1 L640.0 201.2 L640.6 203.7 L640.2 204.8 L640.5 205.6 L640.7 204.3 L640.4 203.1 L640.9 202.5 L640.4 199.9 L640.7 199.2 L640.5 198.7 L641.3 196.9 L640.7 195.2 L641.1 194.4 L640.7 192.9 L641.3 192.2 L640.6 190.6 L641.8 189.6 L641.2 188.0 L640.9 186.8 L641.5 185.5 L640.9 184.1 L641.7 183.1 L641.3 181.3 L642.0 180.9 L641.4 179.0 L642.3 178.0 L641.8 176.3 L642.2 175.0 L642.0 174.0" stroke="#3c3c3c" stroke-width="1.2" opacity="0.9"/>
<path d="M26.5 234.2v2.6 M26.9 238.1v3.0 M26.1 237.0v2.7 M26.9 245.1v2.8 M27.5 246.7v2.1 M27.4 249.2v2.1 M29.4 247.0v1.9 M29.9 249.8v1.4 M29.7 250.1v2.9 M30.2 253.7v1.3 M31.6 255.8v3.0 M32.5 265.0v3.0 M31.8 266.6v3.0 M32.4 268.5v3.0 M32.5 275.3v1.6 M33.1 277.7v2.6 M34.2 282.4v2.4 M33.6 284.7v2.6 M34.0 286.9v1.8 M34.8 285.8v2.7 M35.7 288.7v2.0 M35.4 288.8v3.1 M36.0 284.7v2.1 M36.2 280.2v2.0 M37.6 276.1v2.1 M38.2 272.4v2.0 M39.5 273.6v2.1 M39.1 273.7v3.0 M40.0 277.4v2.4 M41.0 278.0v1.3 M41.7 282.1v2.6 M42.0 285.4v1.2 M43.8 281.3v2.5 M44.4 282.0v2.0 M45.2 282.2v1.8 M46.1 283.2v2.9 M48.1 289.1v1.7 M47.2 291.1v2.6 M48.7 291.7v2.3 M50.6 295.9v3.2 M51.4 299.1v2.5 M50.8 302.4v1.6 M52.0 312.1v1.8 M53.2 304.0v2.5 M53.6 300.4v2.0 M53.9 298.8v2.2 M55.3 296.3v1.8 M55.0 294.5v2.2 M56.6 291.3v2.7 M56.4 289.4v1.4 M57.8 285.1v1.8 M58.9 283.6v1.4 M62.1 276.6v2.1 M65.8 274.7v2.6 M67.2 274.5v1.8 M68.5 273.3v1.7 M71.5 278.2v1.2 M71.8 269.8v1.6 M72.2 261.7v2.9 M78.8 262.5v3.2 M79.4 259.0v2.8 M80.7 260.4v2.6 M82.9 256.1v2.2 M87.4 259.6v1.8 M87.5 262.8v1.5 M89.0 262.9v1.9 M90.0 260.8v2.7 M91.0 249.2v2.5 M92.0 251.0v1.7 M92.6 254.2v1.9 M92.5 255.1v2.2 M93.7 257.0v1.9 M93.0 259.2v2.2 M94.1 260.1v3.0 M94.8 264.6v2.0 M94.4 267.5v1.6 M95.5 268.8v1.7 M94.9 270.6v1.7 M96.2 271.6v2.2 M96.8 275.7v2.5 M98.4 272.7v1.9 M97.3 270.5v2.2 M99.2 264.4v2.0 M99.3 262.7v1.4 M99.9 262.9v2.7 M102.5 260.3v2.2 M103.7 256.5v2.7 M105.0 256.0v1.6 M106.5 252.7v1.4 M106.1 249.6v2.5 M107.4 247.7v1.9 M108.4 245.6v1.6 M109.7 244.9v2.4 M111.5 241.7v2.5 M114.0 240.2v1.5 M119.6 240.3v3.0 M120.0 236.0v2.1 M120.9 233.4v1.3 M122.6 232.8v2.2 M130.8 237.1v2.7 M136.3 231.1v1.4 M138.3 225.9v2.9 M138.1 225.2v2.2 M139.0 224.3v1.7 M140.0 231.9v1.6 M141.6 237.0v2.0 M142.2 240.2v2.6 M142.4 243.5v2.3 M143.1 243.5v3.0 M143.6 247.1v2.7 M144.4 252.9v2.6 M145.4 251.8v1.2 M146.1 247.6v1.9 M145.7 247.0v1.7 M147.4 245.1v1.7 M149.6 241.7v1.4 M150.3 240.9v1.4 M150.7 237.0v1.3 M152.5 230.5v2.5 M153.9 224.6v1.6 M153.7 218.9v2.8 M155.9 213.4v2.6 M160.2 214.6v2.6 M164.4 217.5v3.0 M169.4 210.2v2.9 M169.4 207.9v3.1 M171.2 203.1v1.6 M172.1 200.1v3.2 M174.7 195.0v2.6 M181.4 191.6v2.8 M184.1 189.1v1.9 M185.4 186.5v3.0 M186.3 186.3v3.2 M185.7 187.7v3.0 M186.1 193.9v2.5 M187.0 196.6v2.5 M187.3 199.3v3.1 M188.8 199.9v1.8 M191.5 208.5v2.7 M193.3 208.5v2.3 M193.2 206.1v2.5 M194.4 206.2v2.2 M195.4 210.7v3.2 M196.9 210.1v1.7 M197.8 209.7v2.8 M197.8 202.8v1.7 M199.1 197.0v2.4 M199.1 195.5v1.9 M200.3 193.5v3.1 M200.7 195.7v1.9 M201.0 198.8v1.3 M201.9 198.4v2.8 M202.4 202.5v3.0 M203.3 200.9v1.6 M204.4 201.3v1.8 M205.6 202.0v1.7 M207.1 209.2v2.7 M207.3 208.2v1.9 M208.2 207.5v1.4 M210.4 203.3v1.3 M210.0 207.1v1.4 M212.2 211.7v1.8 M212.8 213.3v1.8 M215.9 216.4v1.3 M216.8 223.0v3.1 M217.0 225.1v3.0 M216.6 227.2v1.7 M216.7 229.9v1.7 M218.4 220.1v2.9 M219.4 215.5v2.9 M219.5 213.2v2.3 M219.9 212.5v2.1 M221.0 207.8v2.4 M221.8 207.0v2.5 M225.1 202.2v2.2 M226.8 198.0v2.2 M229.4 200.8v2.0 M234.2 195.9v2.1 M235.7 188.0v1.7 M236.9 187.8v2.0 M237.0 184.9v2.0 M241.4 192.5v2.1 M243.0 196.0v3.1 M244.8 191.7v2.6 M245.6 190.0v1.9 M245.9 186.0v2.4 M247.2 179.7v2.6 M247.5 179.9v2.8 M250.6 174.1v1.6 M251.2 172.8v1.6 M251.7 174.0v1.9 M253.1 174.1v2.3 M254.0 176.4v2.3 M256.8 183.4v1.2 M257.0 185.2v1.3 M261.4 189.1v2.3 M261.3 184.1v3.1 M266.0 185.6v1.6 M267.1 188.8v2.8 M267.5 191.1v2.4 M268.2 194.5v3.2 M269.4 194.3v2.8 M269.2 192.2v2.0 M270.6 193.1v1.6 M271.8 189.2v2.1 M272.4 182.9v2.9 M273.1 181.6v1.7 M273.0 178.9v2.1 M274.6 178.0v1.7 M276.8 176.9v2.1 M277.6 183.3v2.0 M278.2 187.1v2.3 M278.5 188.1v1.7 M279.6 190.8v2.6 M279.3 195.4v2.9 M280.1 198.3v1.4 M280.6 200.3v1.9 M282.6 198.2v2.1 M283.5 201.7v1.7 M284.5 203.3v1.3 M283.9 203.6v2.1 M284.7 210.2v3.2 M285.1 214.1v2.7 M284.5 215.6v1.6 M285.9 216.8v3.1 M287.1 225.1v2.5 M288.7 225.4v3.1 M289.3 228.7v2.5 M290.8 224.1v2.9 M293.5 226.4v3.0 M293.8 227.3v2.1 M296.0 235.6v3.0 M297.7 243.7v2.6 M298.2 251.6v2.3 M298.6 249.5v1.6 M298.2 247.9v3.2 M298.5 244.6v2.5 M298.5 244.3v1.8 M299.3 241.4v3.2 M298.8 238.8v1.3 M299.7 234.8v3.1 M299.9 233.2v1.4 M302.0 230.8v2.6 M301.8 227.7v1.5 M304.1 223.1v1.9 M305.4 221.9v2.1 M307.3 227.8v1.7 M312.2 226.3v3.2 M312.4 232.4v1.5 M315.1 225.4v1.7 M314.3 224.0v2.2 M315.2 218.7v2.1 M316.8 215.0v3.1 M317.9 212.3v1.6 M317.8 209.7v2.4 M320.7 210.5v2.3 M319.8 210.0v3.0 M320.7 206.1v2.3 M322.4 203.4v1.6 M322.7 201.9v2.0 M325.4 197.9v2.9 M326.2 193.3v2.8 M329.1 191.5v1.6 M329.7 184.5v2.5 M331.0 186.1v3.1 M334.4 185.7v1.9 M339.8 186.7v2.6 M342.4 192.3v1.8 M343.3 189.2v2.0 M345.7 193.2v2.8 M346.8 193.7v1.8 M348.4 195.2v2.2 M348.3 193.0v2.9 M349.0 190.7v3.0 M348.7 186.7v1.9 M349.1 186.3v1.9 M349.4 187.8v2.0 M350.1 189.1v3.1 M351.1 193.5v1.9 M351.0 196.6v2.4 M351.7 198.3v2.6 M351.5 199.3v3.2 M351.4 201.8v2.0 M352.3 206.9v2.2 M352.6 208.2v2.7 M355.0 210.7v1.3 M356.2 209.4v2.2 M355.9 207.6v3.0 M357.9 203.2v2.9 M357.8 201.7v2.2 M358.7 202.0v1.7 M359.6 196.8v2.9 M359.4 193.8v1.8 M360.7 191.8v2.5 M361.4 188.8v1.2 M362.1 184.1v1.8 M361.7 184.0v1.8 M362.5 182.6v1.7 M363.2 177.8v1.7 M363.3 177.9v2.9 M364.3 176.6v1.8 M363.8 173.4v1.5 M366.2 168.6v1.4 M367.6 169.6v2.7 M367.5 165.6v1.8 M372.7 164.3v2.6 M371.9 163.4v2.2 M374.5 162.2v1.9 M376.4 158.6v1.7 M378.7 156.6v1.9 M382.9 158.1v2.2 M384.0 155.1v1.5 M384.1 150.4v1.6 M384.9 149.5v3.0 M385.0 147.4v1.7 M385.4 145.8v1.6 M385.6 143.9v1.4 M387.3 142.8v2.7 M390.4 136.5v3.0 M392.7 132.8v2.6 M395.4 136.5v2.9 M395.4 138.4v1.5 M395.7 137.5v2.3 M399.3 136.4v1.4 M398.7 137.2v2.9 M400.2 140.7v1.9 M401.0 140.6v2.6 M400.7 138.9v2.4 M402.0 138.6v3.0 M402.9 135.5v1.8 M402.7 134.7v1.4 M404.0 133.6v2.2 M403.2 135.2v2.5 M404.7 141.2v1.9 M405.4 142.3v3.1 M405.0 144.4v3.1 M406.0 144.6v2.3 M406.6 143.6v1.5 M407.2 139.5v2.4 M410.2 137.7v1.5 M412.4 135.5v2.8 M416.8 138.6v3.1 M417.2 141.4v2.4 M416.7 141.1v3.1 M419.2 148.0v2.7 M422.6 145.7v1.5 M425.3 150.8v3.0 M426.2 154.0v2.3 M425.5 152.2v1.6 M426.2 150.2v2.3 M426.8 148.6v1.9 M426.9 143.7v3.0 M427.6 144.1v1.4 M428.4 138.5v3.2 M429.5 136.6v2.4 M430.1 131.7v1.4 M431.4 127.0v3.1 M433.4 132.2v2.2 M434.5 137.3v2.1 M436.3 135.3v3.2 M437.0 136.2v2.8 M437.9 135.4v1.2 M441.0 130.1v2.1 M442.7 128.8v1.3 M442.8 127.6v2.5 M443.1 131.9v1.2 M444.0 135.3v2.4 M444.6 135.8v1.8 M444.6 138.2v2.1 M446.3 144.5v2.6 M446.8 145.9v3.2 M447.9 143.9v2.8 M449.5 139.2v2.6 M449.9 136.8v2.4 M452.1 135.9v2.2 M452.0 133.8v2.9 M453.0 132.4v1.9 M453.5 121.8v2.2 M454.0 120.9v2.2 M453.5 119.1v2.1 M454.7 120.4v3.2 M456.5 119.5v1.6 M461.5 120.2v2.3 M463.6 115.9v2.0 M468.8 120.2v2.1 M469.6 120.2v2.8 M469.2 122.3v2.2 M470.3 126.6v1.9 M471.2 126.8v3.1 M470.6 131.1v2.3 M472.2 135.8v1.6 M475.9 142.4v2.2 M477.0 146.3v2.9 M478.8 147.9v1.3 M480.2 137.3v1.3 M480.5 135.9v3.0 M480.6 133.3v2.9 M481.1 128.9v1.9 M481.2 126.6v2.1 M481.9 126.3v1.9 M481.3 124.4v1.8 M484.1 120.0v1.8 M487.3 120.5v1.3 M487.8 120.8v2.7 M487.7 117.0v3.1 M489.6 112.8v1.3 M490.0 109.8v2.2 M493.8 104.8v3.2 M495.7 105.1v2.6 M499.1 105.5v3.1 M500.2 112.6v2.5 M500.0 112.7v2.9 M500.1 120.7v3.1 M500.8 122.0v2.0 M500.5 127.4v3.1 M501.2 127.9v2.8 M501.4 131.1v2.1 M501.5 133.2v2.1 M501.3 135.8v1.9 M502.4 141.0v2.2 M502.1 140.8v1.5 M502.5 141.4v2.2 M502.7 144.9v2.1 M503.0 148.2v3.2 M504.1 152.3v1.3 M503.7 153.2v1.9 M505.0 157.0v1.9 M504.6 159.0v2.0 M505.1 159.3v2.6 M505.8 164.4v2.2 M507.2 175.7v1.5 M506.5 175.1v2.4 M507.1 177.0v2.0 M507.9 178.4v2.0 M508.2 187.1v1.9 M509.1 187.6v1.5 M508.4 189.8v1.9 M509.1 191.5v1.5 M509.4 194.6v2.5 M509.9 199.2v2.5 M510.4 205.7v2.8 M510.1 209.8v2.7 M510.2 210.2v3.2 M510.4 215.7v2.3 M510.4 217.4v1.4 M510.0 218.3v2.2 M510.0 217.0v2.7 M511.4 211.0v1.3 M510.6 210.0v1.6 M511.6 207.7v1.8 M511.6 210.0v2.1 M512.5 214.0v2.2 M511.8 214.9v2.5 M512.5 215.2v1.4 M512.4 217.6v1.2 M513.0 221.9v1.9 M513.6 215.9v1.6 M514.0 214.2v2.8 M514.7 211.9v1.2 M514.4 211.4v3.0 M514.8 213.8v2.1 M514.6 217.5v3.1 M516.8 233.1v2.2 M516.2 234.0v1.4 M517.3 235.1v2.8 M516.3 236.8v2.3 M518.2 272.7v1.5 M519.5 283.2v1.9 M519.2 283.7v2.5 M520.0 287.3v2.1 M519.7 288.6v1.8 M520.0 289.6v1.8 M520.0 293.0v2.2 M520.5 299.9v1.2 M521.5 302.2v2.8 M522.8 330.8v1.4 M522.3 331.0v2.9 M522.7 335.6v1.4 M523.1 336.7v2.3 M523.4 339.0v2.7 M522.9 345.8v2.3 M523.2 347.4v3.2 M523.4 353.5v2.6 M523.5 359.5v1.9 M524.4 363.0v3.0 M524.5 366.1v1.5 M523.9 369.2v3.0 M524.4 372.0v1.7 M524.8 373.3v2.9 M523.9 375.4v1.8 M524.0 376.9v3.2 M526.3 386.8v2.6 M526.3 394.8v2.4 M526.8 398.8v1.9 M527.5 406.5v2.2 M528.2 414.3v1.9 M528.4 417.3v2.4 M528.5 420.4v1.6 M528.1 424.1v2.3 M528.5 420.6v3.0 M528.9 421.0v1.2 M529.5 414.2v1.6 M529.8 412.5v1.8 M530.4 411.4v2.7 M530.1 414.7v2.9 M531.5 430.0v1.3 M531.6 425.6v1.8 M531.2 423.3v2.9 M531.2 418.6v2.0 M531.3 416.2v1.7 M532.1 404.6v2.8 M531.6 406.1v1.7 M532.4 402.6v2.9 M532.2 400.3v1.5 M532.4 397.6v2.4 M532.5 393.9v1.8 M532.5 391.3v2.3 M531.5 381.9v1.5 M532.5 385.3v2.3 M531.6 387.9v1.7 M533.0 391.0v2.8 M533.6 387.6v2.0 M533.0 382.9v2.2 M533.1 378.9v2.9 M534.3 378.9v2.6 M534.0 376.6v1.6 M535.3 368.4v2.9 M535.3 366.1v2.9 M535.1 364.9v2.3 M535.8 361.2v2.3 M536.0 357.2v2.8 M536.4 351.9v2.0 M535.7 351.1v1.3 M536.4 350.6v3.0 M536.3 346.3v2.8 M536.6 337.5v2.9 M537.0 335.6v2.0 M537.4 340.1v1.3 M537.1 340.7v3.2 M538.3 342.3v1.7 M537.8 344.7v1.6 M538.1 350.3v2.4 M538.8 352.3v2.0 M539.3 351.3v1.2 M539.2 349.8v2.3 M539.3 344.2v1.4 M539.1 342.8v2.0 M539.7 341.4v2.7 M539.7 338.5v2.3 M540.4 338.5v3.1 M540.3 333.9v1.9 M541.0 330.6v2.4 M541.4 332.5v1.6 M540.9 334.6v1.8 M541.6 335.0v2.0 M541.3 339.8v1.6 M541.9 339.2v2.7 M542.1 344.2v2.3 M543.3 343.4v3.0 M543.5 338.6v2.7 M544.6 344.7v2.9 M544.3 348.9v2.7 M544.6 350.0v1.3 M544.8 351.9v3.1 M547.1 360.6v2.4 M546.6 361.6v2.8 M547.1 361.4v2.7 M547.4 356.3v3.0 M548.1 355.8v1.7 M547.9 345.8v2.5 M548.9 342.8v2.6 M548.3 336.4v1.9 M550.5 316.0v2.4 M550.4 313.5v2.6 M550.0 311.0v2.3 M551.1 309.0v2.8 M551.0 307.8v2.1 M550.6 304.3v1.5 M551.6 300.2v1.5 M551.5 295.0v2.1 M551.6 298.1v1.3 M551.6 301.7v3.0 M551.9 304.9v1.2 M552.4 305.0v1.6 M552.9 310.9v1.7 M552.6 313.4v2.6 M553.5 315.6v1.3 M553.0 316.9v2.3 M553.5 313.9v1.4 M552.8 312.5v1.9 M553.8 308.8v2.6 M553.3 308.2v1.3 M554.5 304.6v1.5 M553.6 304.2v2.1 M555.3 294.6v3.2 M555.2 292.7v2.2 M555.8 286.1v3.0 M555.3 286.4v3.1 M555.9 283.8v1.5 M556.3 294.7v1.7 M556.2 296.1v2.8 M557.3 298.2v1.4 M556.9 304.0v1.6 M557.1 306.2v2.7 M557.4 310.6v1.8 M558.3 312.7v1.5 M558.9 310.1v1.7 M559.5 307.3v3.1 M559.0 302.4v1.6 M559.9 302.9v1.3 M560.0 300.4v1.7 M559.8 298.5v1.8 M559.6 296.4v2.5 M560.6 291.5v2.0 M559.7 290.9v2.2 M559.7 288.0v2.4 M559.8 289.6v2.1 M561.1 290.1v1.8 M560.8 293.6v1.3 M561.5 294.7v2.0 M562.9 305.1v2.1 M562.3 307.3v1.7 M563.4 309.8v2.6 M563.2 314.4v1.2 M563.2 311.9v3.2 M564.6 307.4v1.4 M564.8 305.5v1.8 M564.7 302.5v2.4 M565.2 306.4v2.6 M566.2 311.2v2.9 M566.3 309.2v1.7 M568.3 302.4v3.1 M567.9 301.4v1.9 M568.3 297.7v1.3 M569.4 295.3v2.6 M568.7 295.3v2.8 M569.3 292.0v2.3 M570.0 290.4v2.0 M571.0 280.9v2.6 M570.4 280.4v2.6 M571.3 278.0v3.1 M572.1 273.6v2.2 M572.7 271.4v1.9 M571.9 270.0v2.1 M573.1 270.5v2.3 M574.0 256.5v2.6 M573.8 258.6v1.3 M574.6 264.0v2.4 M574.5 269.4v1.7 M574.8 271.3v1.4 M575.6 279.2v2.8 M575.7 281.7v1.6 M575.0 283.7v1.4 M575.3 286.9v2.8 M576.1 292.6v2.3 M576.7 302.0v1.3 M577.8 298.1v2.5 M578.3 293.6v2.6 M579.4 284.9v2.0 M580.5 281.2v3.2 M581.8 279.2v1.6 M583.6 280.1v1.8 M584.6 280.0v1.4 M586.0 281.0v2.0 M585.4 283.1v2.9 M586.4 284.7v1.7 M585.9 284.4v2.0 M586.8 288.0v3.1 M586.9 291.3v2.2 M588.2 301.4v1.9 M588.7 298.3v3.0 M589.7 296.2v1.4 M590.0 293.7v2.4 M589.6 292.0v2.5 M591.0 283.6v3.1 M592.0 272.3v2.5 M593.5 263.9v2.7 M594.0 262.3v2.9 M595.3 258.7v2.4 M596.7 263.0v2.4 M596.9 263.3v2.9 M596.3 267.0v2.5 M597.2 267.0v2.5 M597.0 269.3v1.6 M596.7 268.5v1.4 M597.2 266.8v1.6 M597.8 263.0v3.0 M597.3 258.9v2.9 M598.4 259.2v1.9 M598.3 251.8v2.9 M598.5 248.4v2.2 M599.4 242.9v2.9 M600.6 237.1v1.9 M601.4 237.2v2.2 M601.4 235.4v1.4 M602.5 230.7v1.6 M602.3 230.1v1.4 M602.1 227.1v2.7 M604.5 229.1v2.6 M604.7 229.2v1.9 M605.2 228.8v1.8 M604.5 227.0v3.1 M605.2 224.5v2.1 M605.3 222.2v2.8 M605.6 220.7v2.9 M606.5 217.5v2.7 M606.0 215.2v3.0 M605.8 215.3v2.4 M606.3 211.7v1.3 M606.7 209.2v3.0 M606.9 205.0v2.9 M607.6 195.8v2.8 M608.1 193.2v1.6 M609.4 190.6v2.1 M609.7 187.0v1.2 M609.7 185.1v2.2 M610.8 170.5v1.5 M611.9 164.7v2.6 M613.2 159.3v1.4 M613.2 165.2v1.3 M613.6 167.6v2.3 M616.8 188.9v2.8 M617.1 188.1v1.9 M617.6 192.1v1.8 M618.4 204.1v1.6 M618.3 205.5v1.2 M618.1 207.3v1.9 M619.3 210.1v1.5 M619.0 214.8v3.0 M620.8 230.2v2.4 M621.0 231.4v3.0 M621.4 232.0v2.7 M621.6 230.5v1.9 M621.5 227.0v1.6 M621.3 222.9v1.2 M622.2 209.2v1.5 M622.3 205.3v2.3 M623.2 195.3v1.7 M623.7 194.6v1.2 M624.0 189.1v2.9 M624.0 187.7v1.8 M623.9 188.4v1.4 M625.1 189.1v1.6 M624.5 191.1v2.3 M625.7 189.3v2.4 M626.2 187.4v2.6 M627.0 188.8v3.0 M627.1 192.4v1.4 M627.8 193.2v1.7 M627.9 197.4v2.8 M628.5 193.6v1.3 M629.0 190.7v2.1 M629.2 189.2v1.8 M630.5 176.9v2.2 M631.4 182.5v1.6 M632.2 188.3v2.0 M632.2 194.5v2.3 M632.9 196.4v1.5 M634.2 191.1v2.0 M634.7 192.9v1.2 M635.2 196.4v1.4 M634.4 199.0v2.0 M635.0 201.4v1.7 M634.8 201.1v1.8 M634.7 205.0v2.9 M635.4 207.2v2.5 M635.7 205.9v1.9 M635.6 200.3v2.4 M635.6 199.8v2.2 M637.9 201.7v2.0 M637.9 202.4v2.8 M637.7 202.0v2.0 M638.3 198.8v2.5 M637.8 198.5v2.1 M639.1 192.6v2.7 M638.8 190.8v1.2 M639.8 192.3v1.9 M639.4 193.7v2.5 M639.9 194.0v2.1 M639.8 198.5v2.5 M640.5 199.4v1.5 M640.2 202.6v3.1 M640.4 198.2v2.2 M640.7 198.5v1.7 M641.1 192.4v2.9 M640.7 191.4v3.2 M641.3 190.4v2.7 M640.6 188.6v2.1 M641.2 187.9v1.4 M640.9 185.2v2.7 M640.9 184.0v2.1 M641.7 182.1v2.0 M641.8 175.7v2.9 M642.0 172.9v1.8" stroke="#444" stroke-width="0.8" opacity="0.7"/>
<path d="M26.5 236.0L26.1 236.7 M26.1 236.7L26.9 238.6 M26.9 238.6L26.1 239.2 M27.3 242.9L26.5 244.4 M26.5 244.4L27.3 245.9 M27.3 245.9L26.9 247.4 M26.9 247.4L27.5 248.6 M29.4 248.0L29.4 249.2 M29.4 249.2L29.9 251.0 M30.5 253.4L30.2 254.2 M31.1 255.8L30.1 257.5 M30.1 257.5L31.6 258.3 M31.2 260.0L31.0 261.3 M31.0 261.3L32.2 262.4 M32.2 262.4L31.1 264.2 M32.4 269.0L32.7 270.0 M32.7 270.0L32.1 272.2 M32.8 272.7L32.4 274.1 M32.5 276.4L33.0 278.2 M33.0 278.2L33.1 278.9 M33.1 278.9L33.2 280.6 M33.2 280.6L33.2 281.7 M33.2 281.7L34.2 283.3 M34.5 286.0L34.0 286.9 M34.8 288.3L34.5 289.1 M39.5 274.5L39.1 276.0 M39.1 276.0L40.0 277.6 M41.0 278.6L40.4 280.0 M41.7 283.8L41.2 284.8 M41.2 284.8L42.0 286.5 M44.0 280.6L44.4 282.3 M45.2 283.8L46.1 285.5 M46.5 288.0L46.7 288.9 M46.7 288.9L48.1 289.9 M48.7 292.8L48.8 295.0 M48.8 295.0L49.4 296.1 M49.3 297.1L50.6 298.2 M50.2 299.9L50.9 301.0 M51.4 301.6L50.8 303.0 M51.7 304.9L51.2 306.2 M52.1 308.0L51.7 308.7 M51.7 308.7L52.4 310.3 M52.4 310.3L52.0 312.3 M62.6 276.0L64.0 277.0 M69.7 276.1L69.6 277.1 M71.4 276.8L71.5 279.0 M75.0 263.5L75.3 265.5 M81.8 255.6L82.9 256.5 M85.1 258.6L86.2 260.0 M86.2 260.0L87.4 261.2 M92.0 251.0L92.0 252.3 M93.0 256.5L92.5 257.3 M92.5 257.3L93.7 258.2 M93.7 258.2L93.0 260.1 M93.0 260.1L94.1 261.6 M93.7 263.0L94.5 263.8 M94.8 265.8L94.4 268.3 M94.4 268.3L95.0 269.0 M95.0 269.0L95.5 270.0 M94.9 271.0L96.2 271.9 M96.2 271.9L96.0 273.4 M96.0 273.4L97.1 275.4 M96.3 276.7L97.0 277.6 M122.6 233.6L122.6 235.7 M124.8 234.6L124.7 237.4 M124.7 237.4L125.9 238.0 M126.4 239.2L127.8 240.0 M127.8 240.0L127.5 241.5 M130.8 237.6L132.6 238.3 M133.1 233.9L135.1 234.8 M141.2 235.6L140.4 237.8 M141.6 238.5L141.4 240.1 M141.4 240.1L142.2 241.4 M142.2 241.4L141.8 242.7 M141.8 242.7L142.4 244.0 M142.4 244.0L143.1 245.7 M143.1 245.7L142.6 247.3 M142.6 247.3L143.6 248.0 M143.2 248.6L144.5 250.4 M143.4 251.6L144.4 253.0 M158.9 212.3L158.6 215.1 M160.2 214.7L160.6 216.0 M160.6 216.0L161.6 217.0 M161.6 217.0L161.4 218.3 M166.6 210.8L168.5 211.4 M176.8 192.6L177.7 194.6 M185.7 190.7L186.4 191.4 M187.0 198.5L187.3 199.5 M190.0 203.0L189.9 204.1 M189.9 204.1L191.4 204.7 M190.8 206.4L191.8 208.2 M191.8 208.2L191.5 210.0 M194.4 207.4L194.5 208.2 M195.1 209.7L194.4 211.5 M194.4 211.5L195.4 213.1 M195.4 213.1L194.8 214.3 M194.8 214.3L195.8 215.2 M195.4 216.4L196.0 217.0 M196.0 217.0L195.9 219.0 M200.3 194.0L200.7 195.9 M201.5 198.2L201.0 199.0 M201.0 199.0L201.9 200.8 M201.9 200.8L201.2 202.4 M201.2 202.4L202.6 203.3 M204.7 200.0L204.4 201.5 M204.4 201.5L205.6 202.6 M206.0 204.5L205.5 207.0 M206.7 207.5L205.7 209.0 M205.7 209.0L207.1 210.7 M207.1 210.7L206.5 212.0 M206.5 212.0L207.0 213.2 M212.0 206.4L212.0 208.8 M213.1 216.3L213.0 217.8 M213.0 217.8L213.8 219.2 M213.8 219.2L213.5 220.6 M215.9 217.6L216.2 219.4 M216.1 219.9L216.2 222.0 M216.2 222.0L215.6 223.0 M215.6 223.0L216.8 223.8 M216.8 223.8L216.1 226.2 M217.0 226.7L216.6 228.4 M216.6 228.4L217.0 229.1 M216.6 231.5L217.0 232.4 M226.8 200.0L227.3 202.0 M231.0 203.5L230.9 205.0 M230.9 205.0L232.4 206.2 M232.4 206.2L232.6 207.4 M237.0 186.8L236.9 188.0 M236.9 188.0L238.6 189.6 M238.6 189.6L238.0 190.8 M241.4 194.3L241.5 196.8 M251.2 173.5L251.7 175.0 M251.7 175.0L253.1 175.7 M253.1 175.7L252.7 177.0 M254.9 178.9L254.5 180.5 M254.5 180.5L255.8 181.8 M256.8 183.7L257.0 185.3 M257.0 185.3L257.5 186.3 M259.1 186.3L258.8 189.8 M265.9 185.3L266.0 186.8 M266.0 186.8L266.8 187.5 M266.8 187.5L266.2 189.0 M266.2 189.0L267.1 190.2 M267.1 190.2L266.7 191.8 M266.7 191.8L267.5 192.5 M267.4 193.9L268.2 196.2 M275.9 178.0L276.8 179.0 M276.8 179.0L276.0 180.1 M277.3 182.3L276.5 183.6 M277.1 185.8L278.1 187.5 M278.1 187.5L278.2 188.2 M278.2 188.2L278.5 189.4 M278.5 189.4L278.4 190.9 M279.6 191.9L278.8 193.2 M278.8 193.2L279.8 194.8 M279.8 194.8L279.3 196.8 M280.1 199.2L280.7 199.8 M283.5 197.0L283.9 198.5 M283.9 198.5L283.4 200.1 M284.4 201.1L283.5 203.1 M284.5 203.5L283.9 205.6 M283.9 205.6L284.5 206.3 M283.8 208.1L284.9 209.5 M284.9 209.5L284.1 210.2 M284.9 212.3L284.7 213.2 M284.7 213.2L285.1 215.0 M284.5 216.7L285.9 217.4 M285.9 217.4L285.3 218.7 M285.3 218.7L286.2 220.2 M287.1 225.1L287.0 226.5 M288.7 228.5L288.1 229.9 M288.1 229.9L289.1 231.3 M289.1 231.3L289.4 232.4 M293.6 224.2L293.5 226.5 M293.5 226.5L294.4 227.4 M293.8 228.9L295.0 230.5 M295.0 230.5L294.5 232.0 M295.9 231.9L295.1 233.6 M295.1 233.6L295.9 235.3 M296.0 236.4L296.6 237.3 M296.7 240.9L296.5 242.0 M296.6 243.8L297.7 245.2 M297.7 245.2L297.0 246.6 M297.8 247.7L297.5 249.9 M297.5 249.9L298.4 250.9 M308.1 228.4L308.4 230.5 M311.7 225.8L311.4 227.7 M313.3 230.9L312.4 233.2 M323.7 199.3L325.5 200.6 M333.3 187.1L333.7 189.0 M337.8 183.4L337.9 185.5 M338.7 186.3L338.5 187.9 M338.5 187.9L339.8 189.0 M345.0 190.8L345.1 192.4 M346.1 192.7L345.7 194.3 M345.7 194.3L346.8 195.4 M347.3 198.9L347.3 200.0 M349.1 186.6L350.2 187.9 M350.6 190.4L350.1 191.9 M350.8 195.3L351.5 196.4 M351.0 198.6L351.7 200.1 M351.7 200.1L351.5 201.1 M352.3 204.7L351.9 206.2 M351.9 206.2L352.3 207.4 M352.3 207.4L352.3 208.4 M352.3 208.4L352.6 209.7 M352.9 212.2L354.1 214.2 M354.1 214.2L354.0 215.0 M370.6 165.8L371.5 168.0 M392.7 134.0L392.6 136.3 M394.4 136.3L393.8 137.2 M399.3 136.6L398.7 138.3 M403.2 136.4L404.4 137.1 M404.7 141.3L405.4 143.5 M405.0 144.6L406.0 145.4 M415.4 134.0L415.4 135.2 M415.4 135.2L416.0 137.2 M415.6 137.5L416.8 139.8 M417.2 142.2L416.7 143.7 M418.0 147.3L418.0 148.8 M418.0 148.8L419.2 150.5 M418.9 151.2L420.0 153.0 M422.8 143.4L422.6 145.9 M423.8 146.0L423.8 148.0 M423.8 148.0L423.7 149.6 M423.7 149.6L424.8 150.4 M425.3 153.2L425.3 154.8 M425.3 154.8L425.7 155.7 M431.9 131.5L433.4 132.4 M433.4 134.3L434.4 134.9 M442.7 129.0L442.8 129.8 M442.8 129.8L443.9 131.8 M443.9 131.8L443.1 132.7 M443.1 132.7L444.4 134.6 M444.0 135.8L444.6 136.8 M444.6 136.8L444.6 138.7 M446.4 145.1L446.3 146.3 M446.8 146.9L446.4 148.2 M454.0 119.7L454.7 121.6 M456.5 120.9L457.0 123.5 M458.7 123.3L459.7 125.4 M468.5 118.4L469.1 119.8 M469.1 119.8L468.8 121.8 M469.6 122.6L469.2 123.9 M469.2 123.9L470.0 124.6 M470.0 124.6L470.0 125.9 M470.0 125.9L470.3 127.3 M471.2 129.6L470.6 131.4 M470.6 131.4L472.0 132.1 M472.0 132.1L471.4 134.2 M472.2 136.8L472.7 138.7 M474.9 140.5L474.7 141.4 M475.9 143.1L475.3 144.5 M476.3 145.5L475.7 147.8 M475.7 147.8L477.0 148.6 M477.0 151.2L478.6 151.9 M498.7 105.7L499.6 106.5 M500.1 111.9L500.2 114.0 M500.2 114.0L500.0 115.6 M500.0 115.6L501.0 116.8 M501.0 116.8L500.0 117.7 M500.0 117.7L500.9 118.9 M500.9 118.9L500.1 121.1 M500.1 121.1L500.7 122.2 M500.5 122.7L500.8 123.6 M500.8 123.6L500.4 126.0 M501.0 126.4L500.5 127.7 M501.2 129.5L500.6 130.6 M500.6 130.6L501.4 131.9 M501.4 131.9L500.7 133.3 M501.5 134.4L500.8 135.7 M501.3 136.8L502.1 137.6 M501.4 139.2L502.4 141.1 M502.5 142.8L502.0 144.6 M503.0 148.9L503.7 150.1 M503.6 152.1L504.1 153.1 M504.1 153.1L503.7 154.7 M503.7 154.7L504.8 156.3 M504.8 156.3L504.4 157.2 M505.0 158.4L504.6 159.4 M505.1 161.3L505.3 162.8 M505.3 162.8L505.2 164.7 M505.8 165.2L505.4 166.2 M505.4 166.2L506.3 167.8 M506.3 167.8L505.8 169.8 M505.8 169.8L506.3 170.8 M506.3 170.8L506.2 171.8 M506.2 171.8L506.9 173.7 M506.9 173.7L506.4 174.8 M506.4 174.8L507.2 176.4 M507.2 176.4L506.5 177.4 M506.5 177.4L507.1 178.7 M507.1 178.7L506.9 179.7 M507.9 180.2L507.0 182.2 M508.0 183.4L507.2 184.8 M508.6 187.0L508.2 188.6 M509.1 189.1L508.4 191.5 M509.4 195.1L509.8 196.2 M510.6 198.0L509.9 199.2 M509.9 199.2L510.7 200.6 M510.7 200.6L510.1 202.9 M511.0 203.4L510.8 204.9 M510.8 204.9L510.9 206.0 M510.4 207.1L510.7 208.9 M510.7 208.9L510.1 210.2 M510.1 210.2L510.8 211.0 M510.8 211.0L510.2 212.7 M509.9 214.3L510.4 215.8 M511.6 208.6L511.6 210.2 M511.6 210.2L512.1 211.6 M512.5 214.1L511.8 215.3 M512.5 216.2L512.4 217.7 M513.0 220.7L512.6 222.4 M514.6 210.5L514.9 211.5 M514.9 211.5L514.4 213.5 M515.2 214.1L514.8 215.2 M514.8 215.2L515.5 217.1 M514.6 218.4L515.4 219.1 M515.4 219.1L514.9 220.8 M514.9 220.8L515.6 221.7 M516.0 224.3L515.6 225.6 M515.6 225.6L516.1 226.8 M516.1 226.8L515.4 228.8 M515.4 228.8L516.2 229.5 M516.0 231.3L516.0 233.2 M516.2 234.5L517.3 235.9 M518.8 275.2L518.2 276.5 M518.2 276.5L518.9 277.8 M518.5 279.0L519.3 281.1 M519.0 282.0L519.5 283.7 M519.2 284.2L519.5 286.4 M519.5 286.4L518.9 288.0 M520.0 288.0L519.7 289.4 M519.4 293.2L520.0 294.0 M520.0 294.0L520.7 294.7 M520.7 294.7L519.8 296.3 M521.2 301.1L520.4 302.0 M521.5 303.8L521.0 304.8 M522.0 327.2L522.7 329.3 M522.8 331.2L522.7 332.6 M523.3 334.9L522.7 336.8 M523.1 337.0L523.0 338.8 M523.5 342.1L523.2 343.9 M524.1 350.1L523.7 351.5 M523.7 351.5L523.7 353.2 M523.7 353.2L524.3 354.7 M524.3 354.7L523.4 355.9 M523.4 355.9L523.9 356.8 M523.9 356.8L523.6 358.2 M524.5 359.6L523.5 360.9 M523.7 362.9L524.4 364.7 M524.4 369.4L523.9 371.1 M523.9 371.1L524.8 372.2 M524.8 374.8L523.9 376.3 M523.9 376.3L525.0 377.0 M525.0 377.0L524.0 378.8 M524.0 378.8L524.6 380.0 M524.6 380.0L524.6 381.9 M524.6 381.9L525.8 383.2 M525.8 383.2L525.0 384.2 M525.0 384.2L525.9 386.0 M525.9 386.0L525.7 387.1 M525.7 387.1L526.3 389.1 M526.1 389.5L526.3 390.9 M526.3 390.9L526.3 393.2 M526.3 393.2L526.6 394.4 M526.7 396.2L526.6 397.4 M526.6 397.4L526.8 399.0 M526.8 399.0L527.4 400.3 M527.4 400.3L526.5 402.2 M526.5 402.2L527.1 402.9 M527.1 402.9L526.9 404.1 M527.2 409.2L527.8 411.3 M527.3 411.5L528.2 413.7 M527.8 414.6L528.2 415.5 M528.2 415.5L527.6 416.9 M527.6 420.1L528.5 421.8 M528.5 421.8L528.1 422.8 M528.1 422.8L528.6 423.8 M528.1 425.0L528.4 427.0 M529.6 413.4L530.4 415.0 M530.4 415.0L530.1 416.7 M530.1 419.4L530.6 420.5 M530.6 420.5L530.4 421.4 M531.1 423.0L530.6 423.7 M530.6 423.7L531.0 425.0 M530.5 427.0L531.1 428.3 M531.5 430.4L531.0 432.0 M532.1 384.8L531.4 385.8 M531.4 385.8L532.5 387.5 M531.6 388.7L532.9 390.1 M532.9 390.1L532.3 391.9 M537.2 335.8L537.0 337.0 M537.4 340.2L538.0 341.0 M537.1 342.5L538.3 343.2 M537.8 344.8L538.1 346.5 M537.7 346.9L538.4 348.9 M538.4 348.9L537.8 349.9 M538.5 350.3L538.1 351.6 M541.0 332.6L541.4 333.5 M541.4 333.5L540.9 334.6 M540.9 334.6L541.6 336.1 M541.2 337.3L541.5 338.7 M541.3 340.2L541.9 341.6 M541.1 342.1L541.9 343.9 M541.9 343.9L541.3 344.7 M542.1 346.0L541.6 347.1 M541.6 347.1L542.4 349.6 M541.7 349.9L542.3 351.5 M543.5 339.0L544.1 339.6 M543.4 341.9L544.0 342.7 M544.0 342.7L543.4 343.7 M544.6 348.6L544.3 350.0 M544.6 350.3L544.2 351.6 M545.0 352.7L544.8 354.7 M544.8 354.7L545.0 356.3 M546.3 356.9L546.0 359.0 M546.3 360.3L547.1 361.1 M547.1 361.1L546.6 363.1 M546.6 363.1L547.3 364.0 M551.5 297.0L552.1 298.1 M552.1 298.1L551.6 299.3 M551.6 299.3L552.0 300.5 M552.0 300.5L551.6 302.0 M551.6 302.0L552.5 302.9 M552.5 302.9L551.9 305.0 M552.4 306.5L551.9 307.4 M556.1 286.0L555.7 287.7 M555.7 287.7L556.5 289.4 M556.5 289.4L555.8 290.2 M556.0 292.9L556.9 293.9 M556.9 293.9L556.3 296.0 M557.3 298.6L556.5 300.2 M556.5 300.2L557.1 302.1 M557.1 302.1L556.4 302.8 M556.4 302.8L557.3 303.6 M557.3 303.6L556.9 305.0 M556.9 305.0L557.1 306.3 M557.1 306.3L557.0 307.6 M556.9 310.2L557.4 311.8 M558.3 313.7L557.8 314.5 M557.8 314.5L558.8 316.0 M560.3 288.0L559.8 290.0 M559.8 290.0L561.1 290.8 M561.1 290.8L560.8 292.1 M560.8 294.4L561.5 295.4 M561.5 295.4L561.0 297.8 M561.7 298.0L561.8 300.0 M562.7 303.9L561.9 305.2 M561.9 305.2L562.9 306.1 M562.9 306.1L562.3 308.1 M562.3 308.1L563.0 309.8 M562.3 310.6L563.4 312.3 M563.1 312.7L563.2 314.7 M564.7 303.0L565.2 304.8 M564.6 306.1L565.7 306.8 M565.7 306.8L565.2 308.0 M566.2 308.5L565.8 311.2 M573.8 259.4L574.6 261.1 M573.6 262.4L574.6 264.4 M574.3 264.6L574.8 265.8 M574.8 265.8L573.9 267.8 M573.9 267.8L574.9 268.5 M574.9 268.5L574.5 269.9 M574.5 269.9L574.8 271.6 M574.8 271.6L574.7 273.5 M574.9 281.4L575.7 282.7 M575.0 287.2L575.7 289.2 M575.3 289.5L575.8 291.0 M575.8 291.0L575.3 292.6 M575.3 292.6L576.1 293.7 M576.6 296.2L576.1 298.3 M576.7 298.5L576.1 300.7 M581.8 279.4L581.8 280.7 M581.8 280.7L583.6 281.7 M585.3 279.4L584.8 281.3 M586.0 282.0L585.4 284.0 M585.4 284.0L586.4 285.0 M586.4 285.0L585.9 285.8 M586.3 287.5L585.9 288.7 M587.0 289.3L586.8 291.0 M586.8 291.0L587.5 292.6 M587.5 292.6L586.9 293.4 M587.6 294.6L586.8 296.1 M587.7 298.4L588.2 300.9 M587.8 301.7L588.2 303.0 M596.1 261.6L595.7 263.5 M596.7 263.5L596.0 265.2 M596.0 265.2L596.9 266.1 M596.3 268.1L597.2 269.2 M603.6 227.9L604.5 229.4 M613.2 160.2L613.7 161.1 M613.7 161.1L612.9 162.9 M612.9 162.9L613.7 164.4 M613.7 164.4L613.2 165.7 M613.6 168.0L614.7 169.0 M615.3 165.3L615.7 166.1 M615.3 167.8L616.0 168.8 M616.4 173.7L615.7 175.7 M616.4 178.5L616.5 180.4 M616.5 180.4L616.2 182.4 M616.8 182.7L616.3 184.5 M616.3 184.5L617.1 185.9 M617.1 185.9L616.6 187.2 M617.1 187.3L616.8 189.3 M616.8 189.3L617.1 190.0 M617.1 190.0L616.7 192.0 M616.7 192.0L617.6 193.5 M617.6 193.5L617.0 194.6 M617.0 194.6L617.3 195.5 M617.5 197.0L617.2 198.5 M617.2 198.5L617.9 199.1 M617.9 199.1L617.4 201.0 M617.7 202.6L618.4 204.9 M618.4 204.9L618.3 205.6 M618.3 205.6L618.8 206.4 M619.1 209.7L618.4 211.2 M619.3 211.6L618.8 212.5 M618.8 212.5L619.4 213.8 M619.4 213.8L619.3 215.6 M619.3 215.6L619.9 216.5 M619.9 216.5L619.0 217.8 M619.7 223.4L620.6 224.4 M620.6 224.4L620.3 225.7 M620.3 225.7L619.9 226.6 M619.9 226.6L620.9 228.5 M620.8 230.3L620.2 232.1 M620.2 232.1L621.0 233.6 M620.7 234.4L621.0 235.8 M624.0 188.0L623.9 189.5 M625.1 190.7L624.5 191.6 M626.2 187.9L627.0 189.0 M626.7 190.1L627.2 191.1 M627.8 193.6L627.5 195.3 M628.4 197.0L627.9 198.0 M631.2 179.7L630.9 181.6 M631.6 184.8L631.3 186.9 M631.3 186.9L631.6 188.0 M631.6 188.0L632.2 188.9 M632.2 188.9L631.4 190.5 M631.9 192.5L632.7 193.8 M632.7 193.8L632.2 195.5 M633.4 199.8L632.9 200.5 M634.2 193.0L634.7 193.8 M634.7 193.8L634.0 195.4 M634.1 198.3L635.2 198.9 M634.4 200.4L635.0 201.7 M634.8 202.4L635.3 203.6 M635.3 203.6L634.7 205.3 M636.7 195.5L637.3 196.6 M637.3 196.6L636.9 198.0 M637.7 198.6L637.1 200.0 M638.9 191.8L639.8 192.7 M639.4 194.7L639.9 196.1 M639.4 196.8L640.3 198.7 M640.3 198.7L639.8 199.5 M640.5 200.1L640.0 201.2 M640.2 204.8L640.5 205.6" stroke="#a8402c" stroke-width="1.1" opacity="0.75"/>
<path d="M25.5 238.0L26.5 236.0 M27.9 249.0L29.4 248.0 M35.3 292.0L35.1 291.3 M35.1 291.3L35.7 289.1 M35.6 283.3L36.3 282.5 M36.3 282.5L36.2 280.6 M36.2 280.6L36.8 278.8 M36.7 278.4L37.6 276.8 M37.4 275.5L38.3 274.1 M38.3 274.1L38.2 273.0 M42.9 285.6L42.5 283.6 M43.8 282.7L44.0 280.6 M52.4 313.0L53.1 312.0 M52.5 310.5L53.5 309.0 M54.0 306.5L53.2 305.3 M53.2 305.3L54.1 304.2 M54.1 304.2L53.6 302.4 M54.8 302.1L53.9 299.9 M54.9 298.8L54.7 298.0 M55.3 296.4L55.0 295.1 M55.5 292.7L56.6 291.8 M56.6 291.8L56.4 289.6 M56.4 287.1L57.9 286.4 M58.3 282.9L59.3 282.2 M61.0 279.4L60.8 278.2 M60.8 278.2L62.1 276.9 M67.5 277.3L67.2 275.2 M71.8 274.2L72.3 272.5 M72.3 272.5L71.8 270.8 M72.3 269.4L72.7 267.3 M72.7 267.3L72.2 265.8 M72.2 263.4L73.2 262.4 M73.2 262.4L72.7 261.2 M75.9 266.0L77.0 264.5 M81.6 258.5L80.6 256.7 M80.6 256.7L81.8 255.6 M88.8 262.9L90.0 262.0 M90.0 262.0L89.7 259.9 M91.6 253.7L91.0 251.7 M97.2 273.9L98.4 272.8 M97.3 271.6L98.5 270.5 M98.5 270.5L97.9 269.5 M97.9 269.5L98.7 267.5 M98.5 267.1L99.2 265.0 M99.2 265.0L98.6 263.4 M99.3 263.4L99.4 261.5 M102.4 264.4L102.5 262.4 M103.3 262.0L103.0 260.1 M103.0 260.1L104.2 259.2 M105.0 256.9L104.6 254.7 M104.6 254.7L105.3 254.0 M106.5 253.5L106.1 251.6 M106.1 251.6L107.7 250.7 M107.7 250.7L107.4 249.2 M108.4 246.0L109.7 245.3 M109.7 245.3L110.9 244.2 M115.5 241.3L117.1 240.7 M118.5 242.4L119.6 241.5 M119.6 241.5L119.1 239.1 M119.1 239.1L120.3 238.3 M120.3 238.3L120.0 236.5 M120.9 234.2L121.5 233.5 M128.8 242.4L129.5 240.4 M131.0 240.1L130.8 237.6 M135.1 234.8L135.1 232.8 M135.1 232.8L136.3 231.2 M138.1 225.5L139.0 224.7 M145.4 252.5L145.0 250.6 M145.0 250.6L146.1 248.8 M148.6 244.2L148.7 242.6 M151.7 233.4L152.5 231.7 M152.5 231.7L152.3 230.4 M153.2 228.0L153.1 227.3 M153.1 227.3L153.9 225.9 M153.9 225.9L153.7 223.3 M154.6 223.2L153.7 220.9 M154.7 220.7L154.6 218.4 M155.6 217.1L155.3 216.0 M155.9 214.6L157.1 213.0 M163.0 219.8L164.4 217.8 M165.2 216.1L164.9 213.8 M165.9 213.0L166.6 210.8 M169.4 210.3L169.4 208.5 M170.7 208.3L170.1 205.9 M170.1 205.9L171.2 205.2 M171.2 205.2L171.2 204.5 M171.2 204.5L171.8 203.0 M171.8 203.0L172.1 200.9 M173.7 196.6L174.7 195.6 M180.2 193.1L181.4 192.4 M181.4 192.4L181.8 190.0 M192.4 211.8L193.3 210.5 M193.3 210.5L193.2 208.3 M193.2 208.3L194.4 207.4 M195.9 219.0L196.6 218.3 M196.6 218.3L196.0 216.5 M196.9 214.9L196.4 213.4 M196.4 213.4L197.2 212.7 M197.2 212.7L196.9 211.2 M196.9 211.2L197.8 210.0 M197.3 207.9L198.4 206.8 M198.4 206.8L198.2 205.9 M198.2 205.9L197.8 203.9 M198.9 203.8L198.4 201.5 M199.1 199.1L200.2 197.8 M200.2 197.8L199.1 196.5 M200.3 194.8L200.3 194.0 M202.4 204.4L203.6 202.8 M203.6 202.8L203.3 201.6 M206.7 212.1L207.9 210.4 M207.3 209.8L208.2 207.7 M208.2 207.7L207.8 206.2 M210.0 207.6L212.0 206.4 M214.6 220.1L214.8 217.8 M217.0 232.4L217.4 231.1 M217.4 231.1L216.7 230.3 M217.6 228.4L217.2 227.1 M217.8 225.2L218.6 223.5 M218.4 222.6L219.0 221.2 M219.5 218.4L218.9 217.7 M218.9 217.7L219.4 216.2 M219.5 215.0L220.6 213.6 M219.9 212.8L221.5 211.8 M221.5 211.8L221.0 209.4 M223.3 208.3L223.1 205.6 M225.3 205.4L225.1 204.0 M225.1 204.0L226.1 202.2 M227.3 202.0L229.4 201.3 M233.2 205.0L232.4 203.5 M233.8 200.0L233.1 198.1 M233.1 198.1L234.2 196.8 M234.2 196.8L233.6 195.3 M233.6 195.3L234.0 194.0 M236.9 188.3L237.0 186.8 M244.0 196.4L243.6 193.9 M244.2 192.1L245.6 191.2 M245.6 191.2L245.2 189.5 M245.2 189.5L245.9 188.2 M246.7 186.2L246.2 183.6 M247.5 182.5L247.2 181.9 M247.5 180.0L247.5 178.8 M250.6 174.9L251.2 173.5 M264.7 187.7L265.9 185.3 M269.4 196.6L269.2 193.9 M270.6 194.2L270.9 192.6 M270.9 192.6L270.8 191.3 M271.8 190.4L271.3 188.2 M272.2 187.9L271.7 185.4 M272.4 183.8L273.1 182.0 M273.1 182.0L273.0 180.9 M280.6 201.5L280.8 199.8 M282.6 199.9L282.2 198.3 M290.0 231.6L289.3 230.2 M289.3 230.2L290.7 228.4 M290.7 225.1L291.7 223.0 M291.7 223.0L291.5 222.0 M298.0 252.2L298.6 249.8 M298.6 249.8L298.2 249.2 M298.2 249.2L298.9 248.3 M298.5 244.3L299.3 242.1 M299.9 237.6L299.7 236.0 M301.4 233.8L300.8 231.7 M302.0 230.8L301.8 228.9 M302.7 228.6L302.9 227.1 M304.4 227.3L304.1 224.3 M308.4 230.5L309.7 229.8 M309.7 229.8L309.0 228.1 M309.0 228.1L310.4 227.4 M310.4 227.4L309.8 225.7 M309.8 225.7L311.0 224.8 M313.1 232.9L313.8 231.9 M313.8 231.9L313.6 229.4 M313.6 229.4L314.4 228.6 M315.1 223.4L314.8 221.9 M315.7 221.4L315.2 220.1 M315.2 220.1L316.0 218.0 M316.0 218.0L315.9 217.0 M316.8 216.4L316.2 213.8 M319.7 213.5L320.7 212.5 M320.7 212.5L319.8 210.4 M320.7 208.4L321.9 206.4 M322.4 204.0L322.7 202.5 M322.7 202.5L324.3 201.7 M324.3 201.7L323.7 199.3 M328.9 190.5L330.3 188.9 M329.7 187.0L331.0 186.1 M334.4 187.5L334.6 186.1 M336.0 186.6L335.7 183.6 M347.3 200.0L347.8 198.7 M347.2 197.2L348.4 196.3 M348.4 196.3L347.5 194.7 M348.3 193.9L348.2 192.2 M348.3 190.5L348.7 188.9 M348.7 187.8L349.6 186.3 M354.0 215.0L353.9 213.1 M353.9 213.1L355.2 212.3 M355.2 212.3L355.0 211.7 M356.2 209.8L355.9 208.7 M355.9 208.7L356.4 207.8 M356.4 207.8L356.5 205.8 M357.9 205.2L357.8 203.1 M358.6 201.1L359.1 199.2 M359.1 199.2L359.0 198.3 M359.6 197.6L359.4 195.3 M361.4 189.0L361.2 186.4 M361.2 186.4L362.1 185.7 M362.1 185.7L361.7 184.9 M361.7 184.9L362.5 182.9 M362.2 181.2L363.3 180.4 M363.3 180.4L363.2 179.4 M363.2 179.4L363.3 178.4 M364.3 177.3L363.8 174.9 M365.3 172.6L366.0 171.0 M366.0 171.0L366.2 170.0 M371.5 168.0L372.7 166.5 M373.6 165.0L373.2 163.3 M373.2 163.3L374.5 162.3 M376.4 159.6L377.6 158.6 M378.7 157.3L379.0 156.0 M382.9 158.6L382.8 156.7 M384.7 152.6L384.1 151.3 M384.9 149.8L385.0 149.0 M385.0 149.0L386.0 148.1 M385.4 146.4L386.6 145.7 M385.6 144.2L387.3 143.6 M387.3 143.6L387.0 141.6 M387.0 141.6L387.3 138.9 M390.4 136.7L392.1 136.0 M402.0 137.8L402.9 136.1 M408.3 138.6L408.6 137.8 M410.2 138.2L410.9 136.0 M412.4 136.0L413.8 134.3 M425.7 155.7L426.2 154.6 M426.8 149.4L426.6 147.5 M426.6 147.5L427.4 146.3 M427.4 146.3L426.9 145.6 M427.6 144.3L427.6 142.4 M428.4 141.5L427.9 139.3 M430.4 134.3L430.1 132.9 M437.9 135.8L439.2 134.9 M439.2 134.9L439.7 133.0 M447.2 150.0L447.1 148.2 M448.4 147.2L447.9 145.4 M448.9 144.8L448.5 142.5 M449.3 142.7L449.5 140.5 M452.0 134.9L451.8 134.0 M453.0 132.7L452.3 131.4 M453.2 128.0L452.8 125.6 M452.8 125.6L453.5 124.3 M453.5 124.3L453.5 123.4 M454.0 122.0L453.5 120.6 M453.5 120.6L454.0 119.7 M454.7 121.6L456.5 120.9 M459.7 125.4L460.7 124.4 M460.7 124.4L460.0 122.6 M461.5 120.4L462.4 119.7 M467.4 117.8L468.4 116.0 M479.3 149.6L478.8 148.6 M478.8 148.6L479.8 147.0 M479.8 147.0L479.2 145.5 M479.9 145.0L479.2 142.6 M480.5 139.0L480.2 137.8 M480.5 136.8L480.3 135.8 M480.3 135.8L481.0 134.1 M481.7 132.2L481.1 130.8 M481.1 130.8L481.8 129.0 M481.8 129.0L481.2 128.4 M481.2 128.4L481.9 126.9 M482.7 124.6L482.2 122.7 M482.2 122.7L482.4 121.6 M482.4 121.6L484.1 120.8 M487.3 121.6L487.8 120.9 M487.8 120.9L487.7 119.3 M487.7 119.3L488.5 118.0 M488.5 118.0L488.2 115.9 M490.0 112.0L490.6 110.0 M492.0 110.3L492.6 108.4 M492.6 108.4L493.8 107.1 M510.0 220.0L510.0 218.9 M510.0 216.7L511.2 215.0 M511.2 215.0L510.5 213.3 M510.5 213.3L511.4 212.0 M513.0 223.8L512.5 223.0 M513.2 220.1L514.1 218.0 M513.6 217.2L514.1 215.4 M514.0 214.9L514.7 212.6 M514.3 211.5L514.6 210.5 M528.1 425.7L529.0 424.2 M528.5 423.5L529.2 422.2 M528.9 421.0L529.8 419.5 M529.8 419.5L528.7 418.2 M528.7 418.2L529.9 416.4 M529.5 415.8L529.9 413.7 M529.8 413.4L530.0 411.5 M531.0 432.0L531.2 430.2 M531.6 425.6L531.2 423.9 M531.6 423.4L531.0 422.4 M532.0 420.9L531.2 418.6 M532.0 418.2L531.3 416.3 M531.4 414.0L532.3 412.9 M532.3 412.9L531.4 411.2 M532.2 411.1L531.5 409.1 M531.5 409.1L532.1 407.4 M532.0 405.9L531.8 404.7 M531.8 404.7L532.4 402.7 M532.4 402.7L531.8 401.0 M532.2 400.4L532.2 399.0 M532.2 399.0L532.4 398.3 M532.4 398.3L532.0 395.9 M532.5 395.5L531.7 393.6 M531.7 393.6L532.5 391.6 M531.5 388.9L532.2 387.3 M532.2 387.3L531.4 386.2 M531.4 386.2L531.8 384.8 M533.0 392.6L532.5 390.6 M533.6 389.6L533.0 388.8 M533.0 388.8L533.7 386.9 M534.0 382.6L533.1 381.2 M534.3 379.5L533.6 378.5 M534.8 374.2L534.2 372.6 M534.2 372.6L535.1 371.6 M535.3 368.5L535.3 367.0 M535.3 367.0L535.1 366.3 M535.2 363.2L535.8 361.5 M535.8 361.5L535.3 360.9 M536.0 359.3L535.5 358.2 M535.5 358.2L536.1 357.2 M536.1 357.2L535.6 355.0 M535.6 355.0L536.4 353.9 M535.7 352.4L536.4 351.5 M536.1 351.0L536.3 348.8 M536.3 348.0L536.0 347.2 M536.1 343.5L536.8 342.2 M537.4 340.5L536.6 337.9 M539.3 351.9L538.3 350.3 M539.2 349.9L538.9 347.7 M539.6 347.6L539.3 345.4 M539.1 342.8L539.7 342.0 M539.7 340.7L540.4 338.9 M540.4 338.9L540.3 337.8 M540.3 335.7L541.2 333.8 M541.2 333.8L541.0 332.6 M542.8 349.7L542.2 347.2 M542.2 347.2L543.1 346.0 M543.1 346.0L542.8 345.2 M542.8 345.2L543.3 344.0 M547.7 362.0L547.1 360.3 M547.1 360.3L547.8 359.1 M547.8 359.1L547.4 358.3 M548.1 356.3L547.3 355.1 M547.7 352.3L548.0 351.5 M548.7 346.8L548.1 345.4 M548.9 343.7L548.2 342.5 M548.2 342.5L549.1 341.6 M548.1 339.1L549.2 338.0 M550.0 317.6L550.5 316.8 M549.6 315.2L550.4 314.4 M550.4 314.4L550.0 312.8 M550.0 312.8L551.1 311.2 M550.6 305.4L551.6 302.9 M551.6 302.9L551.0 302.3 M551.6 300.8L551.1 299.3 M551.7 298.8L551.5 297.0 M553.0 317.6L552.8 315.7 M553.5 314.6L552.8 313.8 M553.8 308.0L553.6 306.7 M554.5 305.0L553.6 304.3 M553.6 304.3L554.6 302.5 M554.4 300.0L554.8 299.0 M554.4 297.5L555.3 296.6 M554.7 294.8L555.2 293.0 M555.2 293.0L554.9 292.2 M554.9 292.2L556.0 290.5 M555.3 288.6L555.8 287.4 M558.8 316.0L558.4 314.6 M559.0 311.6L559.4 310.6 M559.5 306.3L559.0 303.8 M559.0 302.4L560.0 300.6 M559.8 298.8L559.6 297.4 M559.6 297.4L560.2 296.3 M560.2 296.3L559.7 294.6 M559.7 294.6L560.6 292.8 M559.7 292.3L560.4 290.3 M560.4 290.3L559.7 289.7 M559.7 289.7L560.3 288.0 M563.4 314.1L563.2 312.1 M563.2 312.1L564.0 311.3 M564.0 311.3L563.3 309.2 M563.3 309.2L564.6 307.8 M564.6 307.8L563.6 306.7 M563.6 306.7L564.8 305.7 M566.3 310.5L567.0 309.8 M566.8 307.6L567.6 306.9 M567.6 306.9L567.1 304.7 M568.3 304.7L568.2 303.0 M568.2 303.0L567.9 302.0 M567.9 302.0L568.7 300.9 M568.7 300.9L568.3 298.3 M569.4 297.4L568.7 296.2 M568.7 296.2L569.5 295.6 M569.5 295.6L569.3 293.6 M569.5 290.0L570.4 287.9 M570.4 287.9L570.2 286.7 M570.2 286.7L570.6 285.2 M570.6 285.2L570.4 284.4 M570.4 284.4L571.0 283.0 M570.4 282.3L571.3 280.6 M571.3 280.6L570.9 278.5 M572.0 277.8L571.5 276.5 M571.5 276.5L572.1 275.6 M572.1 275.6L571.5 273.8 M571.5 273.8L572.7 272.2 M572.7 272.2L571.9 271.3 M573.1 270.9L572.2 269.0 M573.0 267.6L572.5 266.1 M573.0 264.4L573.9 262.2 M573.7 261.7L573.9 260.1 M573.9 260.1L574.0 258.8 M577.1 300.7L576.8 299.2 M577.8 298.6L577.5 296.1 M577.5 296.1L578.3 294.7 M578.3 294.7L578.0 294.0 M577.9 291.9L578.9 291.0 M579.3 287.9L578.7 286.3 M580.5 283.7L580.5 281.2 M584.9 282.8L584.6 280.4 M584.6 280.4L585.3 279.4 M588.2 303.0L589.1 301.3 M589.1 301.3L588.7 300.5 M589.7 297.0L590.0 295.3 M590.0 295.3L589.6 294.1 M590.3 293.6L589.6 292.5 M590.2 290.1L590.7 288.0 M590.7 288.0L590.3 286.4 M591.0 285.8L590.4 284.2 M590.4 284.2L591.4 283.3 M591.4 283.3L590.6 281.7 M591.2 279.4L591.0 277.9 M591.0 277.9L591.7 277.0 M591.7 277.0L591.5 275.1 M592.8 271.3L592.6 270.6 M592.6 270.6L593.1 268.7 M593.4 263.6L594.0 261.8 M594.0 261.8L595.3 261.0 M595.3 261.0L595.6 258.8 M597.0 270.6L596.7 269.4 M596.7 269.4L597.2 268.0 M597.2 268.0L597.2 266.4 M597.2 264.0L598.0 263.4 M597.3 261.7L598.4 260.2 M598.4 260.2L597.6 259.0 M597.6 259.0L598.3 257.9 M597.9 257.3L598.4 255.3 M598.4 255.3L598.3 254.5 M598.5 253.0L599.3 251.9 M599.7 249.0L599.0 247.8 M599.4 244.9L600.0 244.0 M600.6 242.0L600.2 240.8 M601.0 240.6L600.6 238.7 M601.4 235.8L601.6 234.0 M601.5 233.4L602.5 231.8 M602.5 231.8L602.3 230.8 M602.1 227.5L603.4 226.4 M604.9 225.7L605.7 224.7 M606.7 214.1L606.3 212.5 M607.0 211.8L606.7 210.0 M607.3 209.7L607.2 208.0 M607.2 208.0L607.7 206.5 M607.7 206.5L606.9 205.3 M607.7 204.6L607.2 203.3 M607.5 200.8L608.2 198.9 M608.2 195.5L608.1 194.1 M609.4 190.9L608.8 188.7 M609.6 182.5L610.6 181.4 M610.6 181.4L609.8 180.2 M610.5 179.0L610.3 177.7 M610.3 175.1L610.7 174.4 M610.7 174.4L610.7 172.8 M610.8 171.9L610.8 170.3 M610.8 170.3L611.1 169.3 M611.1 169.3L610.6 167.6 M610.6 167.6L611.9 166.0 M611.7 163.6L611.7 162.7 M611.7 162.7L612.8 161.6 M615.0 169.8L614.4 168.3 M615.5 167.2L615.3 165.3 M621.0 235.8L620.9 235.1 M621.4 233.7L620.7 232.7 M621.8 223.8L621.0 222.1 M621.0 222.1L621.9 220.6 M621.9 220.6L621.5 219.7 M621.5 219.7L622.1 217.7 M621.5 213.0L622.4 211.9 M621.5 211.1L622.2 209.7 M622.8 203.7L622.3 202.5 M622.3 202.5L623.1 201.2 M622.8 200.5L622.6 198.9 M623.4 197.6L623.2 196.3 M623.2 196.3L623.7 195.4 M623.9 193.1L623.4 191.5 M623.4 191.5L624.0 190.8 M625.3 193.0L625.1 191.7 M626.0 191.0L625.7 189.7 M625.7 189.7L626.5 188.3 M626.5 188.3L626.1 186.5 M626.1 186.5L626.6 185.4 M627.9 198.0L628.5 197.4 M628.5 194.9L628.0 192.9 M629.0 191.9L628.5 190.6 M628.5 190.6L629.2 189.9 M629.0 188.0L628.9 186.4 M630.4 179.9L629.4 178.8 M632.9 200.5L633.8 199.8 M633.1 197.4L633.8 196.6 M633.8 196.6L633.3 195.6 M634.5 193.9L634.2 193.0 M635.4 208.0L635.7 207.2 M635.3 205.7L635.9 204.4 M635.9 204.4L635.6 202.4 M636.5 199.1L636.3 197.8 M636.3 197.8L636.9 196.6 M636.9 196.6L636.7 195.5 M638.3 200.4L637.8 199.0 M638.5 198.7L638.2 196.4 M639.1 192.7L638.8 191.3 M638.8 191.3L639.2 190.5 M640.4 199.9L640.7 199.2 M640.5 198.7L641.3 196.9 M640.7 195.2L641.1 194.4 M641.1 194.4L640.7 192.9 M640.7 192.9L641.3 192.2 M641.3 192.2L640.6 190.6 M640.6 190.6L641.8 189.6 M641.2 188.0L640.9 186.8 M640.9 186.8L641.5 185.5 M641.7 183.1L641.3 181.3 M642.0 180.9L641.4 179.0 M642.3 178.0L641.8 176.3 M642.2 175.0L642.0 174.0" stroke="#2f6e44" stroke-width="1.1" opacity="0.75"/>
</g>
<!-- thin trend line -->
<line x1="52.4" y1="313.5" x2="705.2" y2="158.4" stroke="#222" stroke-width="1.1"/>
<!-- arrows -->
<g fill="#e4e4e4" stroke="#3a3a3a" stroke-width="1.15" stroke-linejoin="miter">
<path d="M52.7 322.2 L60.0 327.4 L56.300000000000004 327.4 L56.300000000000004 337.4 L49.1 337.4 L49.1 327.4 L45.400000000000006 327.4 Z"/>
<path d="M299 265.4 L306.1 270.5 L302.5 270.5 L302.5 280.0 L295.5 280.0 L295.5 270.5 L291.9 270.5 Z"/>
<path d="M514.9 190.0 L521.9 185.1 L518.1999999999999 185.1 L518.1999999999999 175.5 L511.59999999999997 175.5 L511.59999999999997 185.1 L507.9 185.1 Z"/>
<path d="M630.4 163.2 L637.6 158.39999999999998 L634.3 158.39999999999998 L634.3 148.6 L626.5 148.6 L626.5 158.39999999999998 L623.1999999999999 158.39999999999998 Z"/>
<path d="M642.8 162.60000000000002 L649.4 157.90000000000003 L646.6999999999999 157.90000000000003 L646.6999999999999 147.8 L638.9 147.8 L638.9 157.90000000000003 L636.1999999999999 157.90000000000003 Z"/>
</g>
<!-- thick lines -->
<g fill="none" stroke-linecap="round" stroke-width="4.1">
<line x1="385" y1="66.6" x2="737.4" y2="206.8" stroke="#e8141f"/>
<line x1="515.6" y1="456" x2="681.8" y2="133" stroke="#10d040"/>
<line x1="84.5" y1="141.6" x2="707.5" y2="230.2" stroke="#3a3ccd"/>
<line x1="96.5" y1="275.4" x2="717.5" y2="340.5" stroke="#3a3ccd"/>
<line x1="218" y1="230.5" x2="708.5" y2="291" stroke="#ffe900"/>
</g>
<!-- axis labels -->
<g font-size="9.15" fill="#444" style="filter:grayscale(1)" font-family="Liberation Sans, sans-serif">
<text x="714" y="94.2">14.000,00</text>
<rect x="706" y="92.1" width="3" height="1" fill="#6a6a6a"/>
<text x="714" y="154.2">13.000,00</text>
<rect x="706" y="151.8" width="3" height="1" fill="#6a6a6a"/>
<text x="714" y="214.1">12.000,00</text>
<rect x="706" y="211.6" width="3" height="1" fill="#6a6a6a"/>
<text x="714" y="273.9">11.000,00</text>
<rect x="706" y="271.3" width="3" height="1" fill="#6a6a6a"/>
<text x="714" y="333.8">10.000,00</text>
<rect x="706" y="331.1" width="3" height="1" fill="#6a6a6a"/>
<text x="714" y="393.8">9.000,00</text>
<rect x="706" y="390.8" width="3" height="1" fill="#6a6a6a"/>
<text x="714" y="453.8">8.000,00</text>
<rect x="706" y="450.6" width="3" height="1" fill="#6a6a6a"/>
<text x="54" y="469.6" text-anchor="middle">Jan '19</text>
<text x="151.5" y="469.6" text-anchor="middle">Apr</text>
<text x="246.8" y="469.6" text-anchor="middle">Jul</text>
<text x="350" y="469.6" text-anchor="middle">Okt</text>
<text x="444.5" y="469.6" text-anchor="middle">Jan '20</text>
<text x="544.5" y="469.6" text-anchor="middle">Apr</text>
<text x="639" y="469.6" text-anchor="middle">Jul</text>
</g>
<!-- price tag -->
<path d="M705.2 175.7 L711 168.8 L756.2 168.8 L756.2 182.7 L711 182.7 Z" fill="#63c02f"/>
<text x="754.5" y="179.3" text-anchor="end" font-size="9.3" fill="#111" font-family="Liberation Sans, sans-serif">12.608,46</text>
<!-- bottom axis line -->
<rect x="25" y="471" width="731" height="2" fill="#050505"/>
<!-- star -->
<path d="M579.10 15.40 L580.33 18.90 L584.05 18.99 L581.10 21.25 L582.16 24.81 L579.10 22.70 L576.04 24.81 L577.10 21.25 L574.15 18.99 L577.87 18.90 Z" fill="#86e286" stroke="#188a18" stroke-width="0.95" stroke-linejoin="miter"/>
<!-- magnifier -->
<line x1="642" y1="59.8" x2="648.8" y2="66.2" stroke="#555" stroke-width="2.7" stroke-linecap="round"/>
<defs><linearGradient id="mg" x1="0" y1="0" x2="1" y2="1"><stop offset="0" stop-color="#d9d9d9"/><stop offset="0.55" stop-color="#e9e9e9"/><stop offset="1" stop-color="#f6f6f6"/></linearGradient></defs>
<circle cx="636" cy="53.9" r="7.55" fill="url(#mg)" stroke="#5a5a5a" stroke-width="1.1"/>
<rect x="633.1" y="53" width="5.8" height="2" fill="#1f50c4"/>
</svg>
</body></html>
